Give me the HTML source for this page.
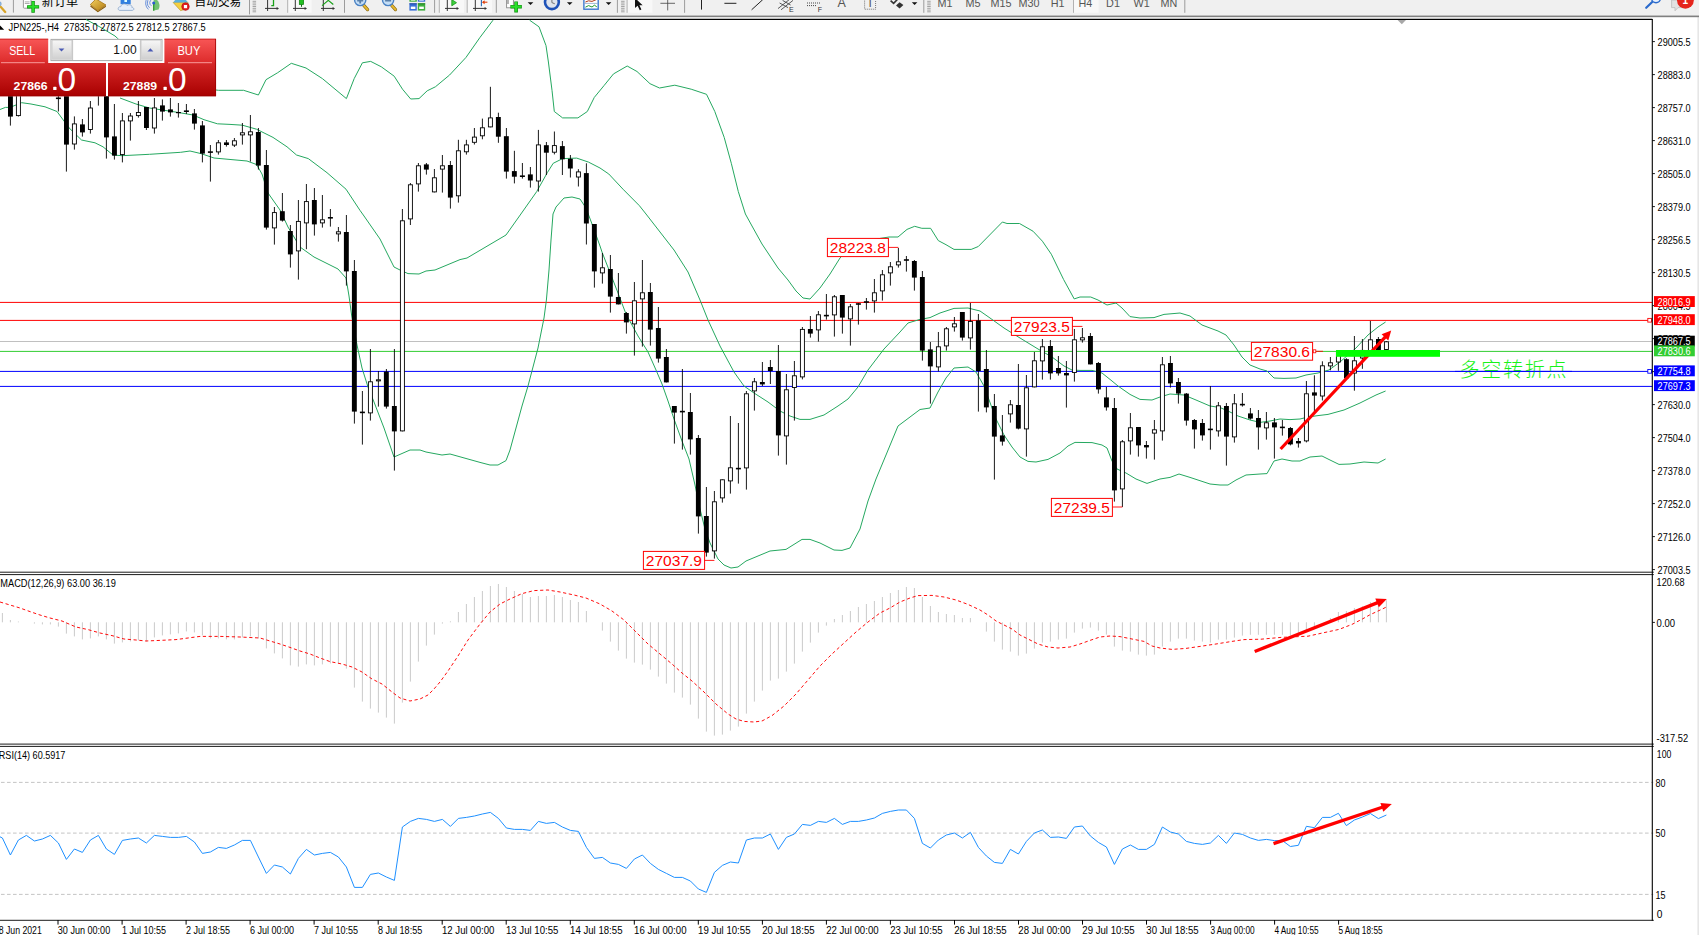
<!DOCTYPE html>
<html lang="zh"><head><meta charset="utf-8"><title>JPN225-,H4</title>
<style>html,body{margin:0;padding:0;background:#fff}body{width:1699px;height:935px;overflow:hidden;position:relative}svg{display:block}svg text{white-space:pre}</style></head>
<body>
<svg width="1699" height="935" viewBox="0 0 1699 935" font-family='"Liberation Sans","Noto Sans CJK SC",sans-serif' style="position:absolute;left:0;top:0">
<defs>
<linearGradient id="gs" x1="0" y1="0" x2="0" y2="1"><stop offset="0" stop-color="#f85656"/><stop offset="1" stop-color="#dc2a2a"/></linearGradient>
<linearGradient id="gp" x1="0" y1="0" x2="0" y2="1"><stop offset="0" stop-color="#d62828"/><stop offset="1" stop-color="#a80000"/></linearGradient>
<linearGradient id="gb" x1="0" y1="0" x2="0" y2="1"><stop offset="0" stop-color="#f6f6f6"/><stop offset="0.5" stop-color="#e4e4e4"/><stop offset="1" stop-color="#cfcfcf"/></linearGradient>
<linearGradient id="gold" x1="0" y1="0" x2="1" y2="1"><stop offset="0" stop-color="#f4d060"/><stop offset="1" stop-color="#b07a10"/></linearGradient>
</defs>
<rect width="1699" height="935" fill="#fff"/>
<rect x="1697.4" y="15" width="1.6" height="920" fill="#e6e6e6"/>
<line x1="0" y1="302.4" x2="1652.3" y2="302.4" stroke="#ff0000" stroke-width="1"/>
<line x1="0" y1="320.4" x2="1652.3" y2="320.4" stroke="#ff0000" stroke-width="1"/>
<line x1="0" y1="341.5" x2="1652.3" y2="341.5" stroke="#c0c0c0" stroke-width="1"/>
<line x1="0" y1="351.4" x2="1652.3" y2="351.4" stroke="#32cd32" stroke-width="1"/>
<line x1="0" y1="371.4" x2="1652.3" y2="371.4" stroke="#0000ff" stroke-width="1"/>
<line x1="0" y1="386.4" x2="1652.3" y2="386.4" stroke="#0000ff" stroke-width="1"/>
<line x1="1652.3" y1="41.6" x2="1654.9" y2="41.6" stroke="#000" stroke-width="0.9"/>
<text x="1657.6" y="45.6" font-size="10.20" fill="#000" textLength="33.0" lengthAdjust="spacingAndGlyphs" >29005.5</text>
<line x1="1652.3" y1="74.6" x2="1654.9" y2="74.6" stroke="#000" stroke-width="0.9"/>
<text x="1657.6" y="78.6" font-size="10.20" fill="#000" textLength="33.0" lengthAdjust="spacingAndGlyphs" >28883.0</text>
<line x1="1652.3" y1="107.6" x2="1654.9" y2="107.6" stroke="#000" stroke-width="0.9"/>
<text x="1657.6" y="111.6" font-size="10.20" fill="#000" textLength="33.0" lengthAdjust="spacingAndGlyphs" >28757.0</text>
<line x1="1652.3" y1="140.6" x2="1654.9" y2="140.6" stroke="#000" stroke-width="0.9"/>
<text x="1657.6" y="144.6" font-size="10.20" fill="#000" textLength="33.0" lengthAdjust="spacingAndGlyphs" >28631.0</text>
<line x1="1652.3" y1="173.6" x2="1654.9" y2="173.6" stroke="#000" stroke-width="0.9"/>
<text x="1657.6" y="177.6" font-size="10.20" fill="#000" textLength="33.0" lengthAdjust="spacingAndGlyphs" >28505.0</text>
<line x1="1652.3" y1="206.6" x2="1654.9" y2="206.6" stroke="#000" stroke-width="0.9"/>
<text x="1657.6" y="210.6" font-size="10.20" fill="#000" textLength="33.0" lengthAdjust="spacingAndGlyphs" >28379.0</text>
<line x1="1652.3" y1="239.6" x2="1654.9" y2="239.6" stroke="#000" stroke-width="0.9"/>
<text x="1657.6" y="243.6" font-size="10.20" fill="#000" textLength="33.0" lengthAdjust="spacingAndGlyphs" >28256.5</text>
<line x1="1652.3" y1="272.6" x2="1654.9" y2="272.6" stroke="#000" stroke-width="0.9"/>
<text x="1657.6" y="276.6" font-size="10.20" fill="#000" textLength="33.0" lengthAdjust="spacingAndGlyphs" >28130.5</text>
<line x1="1652.3" y1="305.6" x2="1654.9" y2="305.6" stroke="#000" stroke-width="0.9"/>
<text x="1657.6" y="309.6" font-size="10.20" fill="#000" textLength="33.0" lengthAdjust="spacingAndGlyphs" >28004.5</text>
<line x1="1652.3" y1="338.6" x2="1654.9" y2="338.6" stroke="#000" stroke-width="0.9"/>
<text x="1657.6" y="342.6" font-size="10.20" fill="#000" textLength="33.0" lengthAdjust="spacingAndGlyphs" >27878.5</text>
<line x1="1652.3" y1="371.6" x2="1654.9" y2="371.6" stroke="#000" stroke-width="0.9"/>
<text x="1657.6" y="375.6" font-size="10.20" fill="#000" textLength="33.0" lengthAdjust="spacingAndGlyphs" >27752.5</text>
<line x1="1652.3" y1="404.6" x2="1654.9" y2="404.6" stroke="#000" stroke-width="0.9"/>
<text x="1657.6" y="408.6" font-size="10.20" fill="#000" textLength="33.0" lengthAdjust="spacingAndGlyphs" >27630.0</text>
<line x1="1652.3" y1="437.6" x2="1654.9" y2="437.6" stroke="#000" stroke-width="0.9"/>
<text x="1657.6" y="441.6" font-size="10.20" fill="#000" textLength="33.0" lengthAdjust="spacingAndGlyphs" >27504.0</text>
<line x1="1652.3" y1="470.6" x2="1654.9" y2="470.6" stroke="#000" stroke-width="0.9"/>
<text x="1657.6" y="474.6" font-size="10.20" fill="#000" textLength="33.0" lengthAdjust="spacingAndGlyphs" >27378.0</text>
<line x1="1652.3" y1="503.6" x2="1654.9" y2="503.6" stroke="#000" stroke-width="0.9"/>
<text x="1657.6" y="507.6" font-size="10.20" fill="#000" textLength="33.0" lengthAdjust="spacingAndGlyphs" >27252.0</text>
<line x1="1652.3" y1="536.6" x2="1654.9" y2="536.6" stroke="#000" stroke-width="0.9"/>
<text x="1657.6" y="540.6" font-size="10.20" fill="#000" textLength="33.0" lengthAdjust="spacingAndGlyphs" >27126.0</text>
<line x1="1652.3" y1="569.6" x2="1654.9" y2="569.6" stroke="#000" stroke-width="0.9"/>
<text x="1657.6" y="573.6" font-size="10.20" fill="#000" textLength="33.0" lengthAdjust="spacingAndGlyphs" >27003.5</text>
<rect x="1654" y="296.1" width="40.8" height="10.9" fill="#ff0000"/>
<text x="1657.6" y="305.5" font-size="10.20" fill="#fff" textLength="33.0" lengthAdjust="spacingAndGlyphs" >28016.9</text>
<rect x="1654" y="314.2" width="40.8" height="10.9" fill="#ff0000"/>
<text x="1657.6" y="323.7" font-size="10.20" fill="#fff" textLength="33.0" lengthAdjust="spacingAndGlyphs" >27948.0</text>
<rect x="1654" y="335.7" width="40.8" height="10.9" fill="#000000"/>
<text x="1657.6" y="345.1" font-size="10.20" fill="#fff" textLength="33.0" lengthAdjust="spacingAndGlyphs" >27867.5</text>
<rect x="1654" y="345.4" width="40.8" height="10.9" fill="#32cd32"/>
<text x="1657.6" y="354.9" font-size="10.20" fill="#fff" textLength="33.0" lengthAdjust="spacingAndGlyphs" >27830.6</text>
<rect x="1654" y="365.4" width="40.8" height="10.9" fill="#0000ff"/>
<text x="1657.6" y="374.8" font-size="10.20" fill="#fff" textLength="33.0" lengthAdjust="spacingAndGlyphs" >27754.8</text>
<rect x="1654" y="380.2" width="40.8" height="10.9" fill="#0000ff"/>
<text x="1657.6" y="389.6" font-size="10.20" fill="#fff" textLength="33.0" lengthAdjust="spacingAndGlyphs" >27697.3</text>
<rect x="1647.8" y="318.4" width="3.7" height="3.7" fill="#fff" stroke="#ff0000" stroke-width="0.9"/>
<rect x="1647.8" y="369.5" width="3.7" height="3.7" fill="#fff" stroke="#0000ff" stroke-width="0.9"/>
<text x="1656.6" y="585.8" font-size="10.20" fill="#000" textLength="28.0" lengthAdjust="spacingAndGlyphs" >120.68</text>
<text x="1656.6" y="626.8" font-size="10.20" fill="#000" textLength="18.5" lengthAdjust="spacingAndGlyphs" >0.00</text>
<text x="1656.6" y="741.8" font-size="10.20" fill="#000" textLength="31.5" lengthAdjust="spacingAndGlyphs" >-317.52</text>
<line x1="1652.3" y1="622.4" x2="1654.9" y2="622.4" stroke="#000" stroke-width="0.9"/>
<text x="1656.8" y="757.8" font-size="10.20" fill="#000" textLength="14.5" lengthAdjust="spacingAndGlyphs" >100</text>
<text x="1655.4" y="786.5" font-size="10.20" fill="#000" textLength="10.0" lengthAdjust="spacingAndGlyphs" >80</text>
<text x="1655.4" y="837.4" font-size="10.20" fill="#000" textLength="10.0" lengthAdjust="spacingAndGlyphs" >50</text>
<text x="1655.4" y="898.5" font-size="10.20" fill="#000" textLength="10.0" lengthAdjust="spacingAndGlyphs" >15</text>
<text x="1656.8" y="917.8" font-size="10.20" fill="#000" >0</text>
<line x1="1" y1="782.4" x2="1653.3" y2="782.4" stroke="#bdbdbd" stroke-width="0.9" stroke-dasharray="3.6 2.4"/>
<line x1="1" y1="833.1" x2="1653.3" y2="833.1" stroke="#bdbdbd" stroke-width="0.9" stroke-dasharray="3.6 2.4"/>
<line x1="1" y1="894.4" x2="1653.3" y2="894.4" stroke="#bdbdbd" stroke-width="0.9" stroke-dasharray="3.6 2.4"/>
<line x1="0" y1="19.3" x2="1652.3" y2="19.3" stroke="#000" stroke-width="1.3"/>
<line x1="0" y1="572.2" x2="1653.8" y2="572.2" stroke="#000" stroke-width="0.9"/>
<line x1="0" y1="574.6" x2="1653.8" y2="574.6" stroke="#000" stroke-width="0.9"/>
<line x1="0" y1="744.1" x2="1653.8" y2="744.1" stroke="#000" stroke-width="0.9"/>
<line x1="0" y1="746.4" x2="1653.8" y2="746.4" stroke="#000" stroke-width="0.9"/>
<line x1="0" y1="920.3" x2="1653.8" y2="920.3" stroke="#000" stroke-width="0.9"/>
<line x1="1652.3" y1="19" x2="1652.3" y2="920.8" stroke="#000" stroke-width="1.1"/>
<polygon points="1397.6,20 1406,20 1401.8,24.3" fill="#a8a8a8"/>
<line x1="-6.0" y1="920" x2="-6.0" y2="924.6" stroke="#000" stroke-width="1"/>
<text x="-6.2" y="933.7" font-size="10.20" fill="#000" textLength="48.0" lengthAdjust="spacingAndGlyphs" >28 Jun 2021</text>
<line x1="58.0" y1="920" x2="58.0" y2="924.6" stroke="#000" stroke-width="1"/>
<text x="57.8" y="933.7" font-size="10.20" fill="#000" textLength="52.4" lengthAdjust="spacingAndGlyphs" >30 Jun 00:00</text>
<line x1="122.1" y1="920" x2="122.1" y2="924.6" stroke="#000" stroke-width="1"/>
<text x="121.9" y="933.7" font-size="10.20" fill="#000" textLength="44.2" lengthAdjust="spacingAndGlyphs" >1 Jul 10:55</text>
<line x1="186.1" y1="920" x2="186.1" y2="924.6" stroke="#000" stroke-width="1"/>
<text x="185.9" y="933.7" font-size="10.20" fill="#000" textLength="44.2" lengthAdjust="spacingAndGlyphs" >2 Jul 18:55</text>
<line x1="250.1" y1="920" x2="250.1" y2="924.6" stroke="#000" stroke-width="1"/>
<text x="249.9" y="933.7" font-size="10.20" fill="#000" textLength="44.2" lengthAdjust="spacingAndGlyphs" >6 Jul 00:00</text>
<line x1="314.1" y1="920" x2="314.1" y2="924.6" stroke="#000" stroke-width="1"/>
<text x="313.9" y="933.7" font-size="10.20" fill="#000" textLength="44.2" lengthAdjust="spacingAndGlyphs" >7 Jul 10:55</text>
<line x1="378.2" y1="920" x2="378.2" y2="924.6" stroke="#000" stroke-width="1"/>
<text x="378.0" y="933.7" font-size="10.20" fill="#000" textLength="44.2" lengthAdjust="spacingAndGlyphs" >8 Jul 18:55</text>
<line x1="442.2" y1="920" x2="442.2" y2="924.6" stroke="#000" stroke-width="1"/>
<text x="442.0" y="933.7" font-size="10.20" fill="#000" textLength="52.4" lengthAdjust="spacingAndGlyphs" >12 Jul 00:00</text>
<line x1="506.2" y1="920" x2="506.2" y2="924.6" stroke="#000" stroke-width="1"/>
<text x="506.0" y="933.7" font-size="10.20" fill="#000" textLength="52.4" lengthAdjust="spacingAndGlyphs" >13 Jul 10:55</text>
<line x1="570.3" y1="920" x2="570.3" y2="924.6" stroke="#000" stroke-width="1"/>
<text x="570.1" y="933.7" font-size="10.20" fill="#000" textLength="52.4" lengthAdjust="spacingAndGlyphs" >14 Jul 18:55</text>
<line x1="634.3" y1="920" x2="634.3" y2="924.6" stroke="#000" stroke-width="1"/>
<text x="634.1" y="933.7" font-size="10.20" fill="#000" textLength="52.4" lengthAdjust="spacingAndGlyphs" >16 Jul 00:00</text>
<line x1="698.3" y1="920" x2="698.3" y2="924.6" stroke="#000" stroke-width="1"/>
<text x="698.1" y="933.7" font-size="10.20" fill="#000" textLength="52.4" lengthAdjust="spacingAndGlyphs" >19 Jul 10:55</text>
<line x1="762.4" y1="920" x2="762.4" y2="924.6" stroke="#000" stroke-width="1"/>
<text x="762.2" y="933.7" font-size="10.20" fill="#000" textLength="52.4" lengthAdjust="spacingAndGlyphs" >20 Jul 18:55</text>
<line x1="826.4" y1="920" x2="826.4" y2="924.6" stroke="#000" stroke-width="1"/>
<text x="826.2" y="933.7" font-size="10.20" fill="#000" textLength="52.4" lengthAdjust="spacingAndGlyphs" >22 Jul 00:00</text>
<line x1="890.4" y1="920" x2="890.4" y2="924.6" stroke="#000" stroke-width="1"/>
<text x="890.2" y="933.7" font-size="10.20" fill="#000" textLength="52.4" lengthAdjust="spacingAndGlyphs" >23 Jul 10:55</text>
<line x1="954.5" y1="920" x2="954.5" y2="924.6" stroke="#000" stroke-width="1"/>
<text x="954.2" y="933.7" font-size="10.20" fill="#000" textLength="52.4" lengthAdjust="spacingAndGlyphs" >26 Jul 18:55</text>
<line x1="1018.5" y1="920" x2="1018.5" y2="924.6" stroke="#000" stroke-width="1"/>
<text x="1018.3" y="933.7" font-size="10.20" fill="#000" textLength="52.4" lengthAdjust="spacingAndGlyphs" >28 Jul 00:00</text>
<line x1="1082.5" y1="920" x2="1082.5" y2="924.6" stroke="#000" stroke-width="1"/>
<text x="1082.3" y="933.7" font-size="10.20" fill="#000" textLength="52.4" lengthAdjust="spacingAndGlyphs" >29 Jul 10:55</text>
<line x1="1146.5" y1="920" x2="1146.5" y2="924.6" stroke="#000" stroke-width="1"/>
<text x="1146.3" y="933.7" font-size="10.20" fill="#000" textLength="52.4" lengthAdjust="spacingAndGlyphs" >30 Jul 18:55</text>
<line x1="1210.6" y1="920" x2="1210.6" y2="924.6" stroke="#000" stroke-width="1"/>
<text x="1210.4" y="933.7" font-size="10.20" fill="#000" textLength="44.2" lengthAdjust="spacingAndGlyphs" >3 Aug 00:00</text>
<line x1="1274.6" y1="920" x2="1274.6" y2="924.6" stroke="#000" stroke-width="1"/>
<text x="1274.4" y="933.7" font-size="10.20" fill="#000" textLength="44.2" lengthAdjust="spacingAndGlyphs" >4 Aug 10:55</text>
<line x1="1338.6" y1="920" x2="1338.6" y2="924.6" stroke="#000" stroke-width="1"/>
<text x="1338.4" y="933.7" font-size="10.20" fill="#000" textLength="44.2" lengthAdjust="spacingAndGlyphs" >5 Aug 18:55</text>
<polyline points="86.0,19.5 100.0,27.0 115.0,36.0 130.0,50.0 160.0,75.0 200.0,88.0 218.4,90.3 243.6,90.3 258.4,95.0 266.0,79.7 277.7,72.7 291.3,63.3 306.0,68.0 322.4,78.6 346.4,98.6 354.2,78.6 362.4,62.8 370.7,61.4 381.3,66.8 394.2,76.2 402.5,89.2 410.7,99.0 419.0,98.6 427.2,90.8 435.4,86.8 449.6,75.0 466.0,57.4 480.0,37.4 493.0,20.2" fill="none" stroke="#25a860" stroke-width="1" stroke-linejoin="round"/>
<polyline points="529.6,20.2 539.0,26.8 546.0,45.6 548.4,62.0 552.0,90.3 554.3,111.5 562.6,117.9 577.9,117.9 587.3,111.5 594.3,97.4 604.0,85.6 613.5,73.9 627.2,66.0 637.0,71.5 650.0,83.7 659.5,88.0 674.8,85.2 691.2,89.2 706.5,94.3 714.8,111.5 724.2,137.4 731.3,163.3 738.3,191.6 745.4,214.0 752.0,226.0 762.0,244.0 778.0,268.0 788.0,280.0 796.0,291.0 803.0,298.0 810.0,299.0 820.0,288.0 830.0,274.0 840.0,258.0 852.0,245.0 870.0,240.0 889.0,237.0 898.0,237.0 907.0,229.4 914.7,226.3 921.8,228.3 930.6,228.3 938.3,240.6 946.0,244.7 954.0,249.4 971.2,249.4 978.3,246.5 990.6,234.0 1002.4,222.0 1007.0,223.5 1019.5,223.5 1033.0,231.2 1042.4,241.2 1051.3,254.2 1063.6,279.5 1074.2,298.9 1080.0,297.0 1090.7,297.0 1098.0,300.0 1107.0,305.0 1116.0,303.0 1122.0,308.0 1130.0,316.6 1140.0,318.0 1154.0,317.6 1164.0,314.4 1180.0,313.0 1190.0,316.0 1202.0,325.0 1218.0,331.0 1226.0,335.0 1234.0,345.0 1242.0,357.0 1250.0,365.0 1260.0,369.0 1267.0,371.0 1274.0,378.0 1284.0,378.4 1296.0,378.0 1306.0,375.0 1318.0,373.0 1329.0,370.0 1340.0,362.0 1356.0,348.0 1368.0,335.0 1378.0,327.0 1385.6,322.0" fill="none" stroke="#25a860" stroke-width="1" stroke-linejoin="round"/>
<polyline points="120.0,98.0 136.0,104.0 149.5,108.0 176.6,112.2 193.0,115.0 204.0,119.7 217.4,123.8 230.0,124.4 242.4,125.2 256.5,129.2 273.0,137.4 287.0,146.8 296.5,155.0 308.3,158.6 327.0,172.7 346.0,189.2 360.0,210.4 364.0,216.0 380.0,239.0 394.0,267.0 400.0,270.0 408.0,273.6 419.0,274.0 426.0,271.0 435.0,270.0 460.0,259.6 467.0,258.0 506.0,235.0 520.2,215.0 536.7,191.6 547.3,172.7 553.2,163.3 562.6,158.6 576.7,158.1 588.5,162.1 600.0,168.0 608.8,174.0 623.0,189.2 639.4,205.7 646.0,214.0 660.0,232.0 674.0,250.0 688.0,272.0 700.0,300.0 708.0,320.0 720.0,346.0 734.0,372.0 744.0,386.0 754.0,393.0 768.0,402.0 780.0,411.0 790.0,416.0 800.0,419.4 810.0,419.4 824.0,415.0 838.0,406.0 848.0,399.0 858.0,387.0 868.0,370.0 884.0,349.0 900.0,332.0 908.0,323.0 920.0,319.4 930.0,317.6 940.0,313.0 954.0,308.4 968.0,308.0 980.0,311.0 990.0,318.0 1004.0,328.0 1020.0,338.0 1038.0,349.0 1052.0,357.0 1064.0,366.0 1072.0,370.0 1080.0,370.4 1092.0,370.4 1102.0,373.0 1112.0,381.0 1118.0,386.0 1130.0,394.4 1140.0,399.4 1152.0,400.0 1160.0,397.0 1170.0,394.0 1184.0,395.0 1196.0,400.0 1210.0,406.0 1220.0,407.5 1228.0,411.0 1238.0,416.0 1250.0,420.0 1260.0,422.4 1270.0,421.0 1280.0,419.0 1290.0,419.6 1300.0,419.0 1308.0,417.0 1318.0,415.6 1328.0,414.4 1344.0,410.0 1360.0,403.0 1376.0,395.0 1385.6,391.0" fill="none" stroke="#25a860" stroke-width="1" stroke-linejoin="round"/>
<polyline points="0.0,109.5 5.4,107.4 10.0,107.4 21.7,102.7 31.0,104.0 45.0,106.8 57.0,111.5 64.0,121.0 69.0,127.8 81.5,140.0 95.0,142.8 103.0,146.8 113.0,155.0 122.0,155.7 149.5,154.3 180.7,152.3 190.0,151.0 201.0,153.6 214.0,158.0 247.0,161.0 256.5,164.5 262.0,174.0 268.0,193.0 280.0,210.0 288.0,227.0 300.0,247.0 314.0,257.0 338.0,269.0 346.0,278.0 349.0,296.0 351.6,315.0 357.0,345.0 362.0,368.0 368.0,387.0 374.0,402.0 384.0,428.0 394.0,457.0 410.0,450.0 420.0,450.0 426.0,452.0 442.0,455.0 450.0,454.0 480.0,462.4 490.0,465.0 498.0,465.0 506.0,460.6 510.0,450.0 522.0,406.0 528.0,386.0 538.0,348.0 544.0,318.0 546.4,300.0 549.0,270.0 551.0,240.0 553.0,214.0 556.0,207.0 564.0,198.0 572.0,197.0 580.0,199.0 586.0,208.0 592.0,224.0 600.0,246.0 602.0,252.0 618.0,293.0 626.0,314.0 638.0,336.0 648.0,352.0 656.0,370.0 662.0,384.0 668.0,401.0 674.0,419.0 682.0,441.0 689.0,459.0 695.0,485.0 700.0,509.0 705.0,529.0 710.0,543.0 718.0,559.0 724.0,565.0 731.0,568.0 738.0,567.0 746.0,561.0 770.0,551.0 786.0,549.4 802.0,539.4 810.0,539.4 820.0,543.0 834.0,550.0 842.0,550.4 850.0,548.0 860.0,529.0 868.0,501.0 876.0,479.0 886.0,455.0 898.0,426.0 910.0,417.0 920.0,409.5 930.0,408.0 938.0,392.0 946.0,378.0 954.0,368.0 968.0,367.0 976.0,372.0 984.0,386.0 988.0,397.0 996.0,419.0 1004.0,435.0 1012.0,447.0 1020.0,457.0 1028.0,461.4 1036.0,462.0 1048.0,459.4 1060.0,453.0 1068.0,446.0 1075.0,442.4 1092.0,442.6 1102.0,445.0 1107.0,448.0 1112.0,461.0 1117.0,469.0 1126.0,473.0 1136.0,479.0 1147.0,483.4 1160.0,479.0 1170.0,477.4 1179.0,474.0 1190.0,477.4 1210.0,484.0 1220.0,485.0 1228.0,485.0 1236.0,480.0 1246.0,475.0 1260.0,474.0 1267.0,473.6 1274.0,461.0 1282.0,459.0 1292.0,461.0 1300.0,461.0 1310.0,457.0 1322.0,456.0 1330.0,460.0 1339.0,464.4 1350.0,464.0 1364.0,462.0 1378.0,463.0 1385.6,459.0" fill="none" stroke="#25a860" stroke-width="1" stroke-linejoin="round"/>
<line x1="10.4" y1="85.0" x2="10.4" y2="125.6" stroke="#000" stroke-width="0.9"/>
<rect x="8.0" y="88.0" width="4.9" height="28.6" fill="#000"/>
<line x1="18.4" y1="90.0" x2="18.4" y2="116.5" stroke="#000" stroke-width="0.9"/>
<rect x="16.4" y="95.5" width="4.0" height="20.1" fill="#fff" stroke="#000" stroke-width="0.9"/>
<line x1="58.4" y1="90.0" x2="58.4" y2="111.5" stroke="#000" stroke-width="0.9"/>
<line x1="55.9" y1="98.3" x2="60.9" y2="98.3" stroke="#000" stroke-width="1.6"/>
<line x1="66.4" y1="88.0" x2="66.4" y2="171.6" stroke="#000" stroke-width="0.9"/>
<rect x="64.0" y="90.0" width="4.9" height="54.6" fill="#000"/>
<line x1="74.4" y1="116.4" x2="74.4" y2="149.6" stroke="#000" stroke-width="0.9"/>
<rect x="72.4" y="123.9" width="4.0" height="20.1" fill="#fff" stroke="#000" stroke-width="0.9"/>
<line x1="82.4" y1="119.0" x2="82.4" y2="136.6" stroke="#000" stroke-width="0.9"/>
<rect x="80.0" y="124.4" width="4.9" height="8.0" fill="#000"/>
<line x1="90.4" y1="101.0" x2="90.4" y2="133.6" stroke="#000" stroke-width="0.9"/>
<rect x="88.4" y="108.0" width="4.0" height="21.5" fill="#fff" stroke="#000" stroke-width="0.9"/>
<line x1="98.4" y1="85.0" x2="98.4" y2="105.6" stroke="#000" stroke-width="0.9"/>
<rect x="96.4" y="88.5" width="4.0" height="6.1" fill="#fff" stroke="#000" stroke-width="0.9"/>
<line x1="106.4" y1="88.0" x2="106.4" y2="158.6" stroke="#000" stroke-width="0.9"/>
<rect x="104.0" y="90.0" width="4.9" height="47.4" fill="#000"/>
<line x1="114.4" y1="104.0" x2="114.4" y2="159.6" stroke="#000" stroke-width="0.9"/>
<rect x="112.0" y="136.4" width="4.9" height="19.2" fill="#000"/>
<line x1="122.4" y1="113.0" x2="122.4" y2="162.4" stroke="#000" stroke-width="0.9"/>
<rect x="120.4" y="120.9" width="4.0" height="33.7" fill="#fff" stroke="#000" stroke-width="0.9"/>
<line x1="130.4" y1="113.0" x2="130.4" y2="140.6" stroke="#000" stroke-width="0.9"/>
<rect x="128.4" y="116.0" width="4.0" height="4.9" fill="#fff" stroke="#000" stroke-width="0.9"/>
<line x1="138.4" y1="101.0" x2="138.4" y2="117.6" stroke="#000" stroke-width="0.9"/>
<rect x="136.4" y="112.5" width="4.0" height="3.1" fill="#fff" stroke="#000" stroke-width="0.9"/>
<line x1="146.4" y1="107.0" x2="146.4" y2="130.0" stroke="#000" stroke-width="0.9"/>
<rect x="144.0" y="107.0" width="4.9" height="21.0" fill="#000"/>
<line x1="154.4" y1="98.0" x2="154.4" y2="133.6" stroke="#000" stroke-width="0.9"/>
<rect x="152.4" y="107.9" width="4.0" height="20.1" fill="#fff" stroke="#000" stroke-width="0.9"/>
<line x1="162.4" y1="99.4" x2="162.4" y2="120.6" stroke="#000" stroke-width="0.9"/>
<rect x="160.0" y="105.4" width="4.9" height="6.2" fill="#000"/>
<line x1="170.4" y1="98.0" x2="170.4" y2="116.6" stroke="#000" stroke-width="0.9"/>
<rect x="168.0" y="109.4" width="4.9" height="3.0" fill="#000"/>
<line x1="178.4" y1="103.0" x2="178.4" y2="117.6" stroke="#000" stroke-width="0.9"/>
<rect x="176.0" y="112.0" width="4.9" height="1.2" fill="#000"/>
<line x1="186.4" y1="104.0" x2="186.4" y2="114.0" stroke="#000" stroke-width="0.9"/>
<line x1="183.9" y1="111.2" x2="188.9" y2="111.2" stroke="#000" stroke-width="1.6"/>
<line x1="194.4" y1="109.0" x2="194.4" y2="129.6" stroke="#000" stroke-width="0.9"/>
<rect x="192.0" y="113.4" width="4.9" height="10.2" fill="#000"/>
<line x1="202.4" y1="121.0" x2="202.4" y2="162.4" stroke="#000" stroke-width="0.9"/>
<rect x="200.0" y="125.4" width="4.9" height="28.2" fill="#000"/>
<line x1="210.4" y1="145.0" x2="210.4" y2="181.6" stroke="#000" stroke-width="0.9"/>
<line x1="207.9" y1="152.1" x2="212.9" y2="152.1" stroke="#000" stroke-width="1.6"/>
<line x1="218.4" y1="140.0" x2="218.4" y2="154.6" stroke="#000" stroke-width="0.9"/>
<rect x="216.4" y="142.8" width="4.0" height="9.1" fill="#fff" stroke="#000" stroke-width="0.9"/>
<line x1="226.4" y1="140.0" x2="226.4" y2="146.6" stroke="#000" stroke-width="0.9"/>
<rect x="224.0" y="142.4" width="4.9" height="2.6" fill="#000"/>
<line x1="234.4" y1="138.0" x2="234.4" y2="147.0" stroke="#000" stroke-width="0.9"/>
<rect x="232.4" y="140.8" width="4.0" height="4.3" fill="#fff" stroke="#000" stroke-width="0.9"/>
<line x1="242.4" y1="123.0" x2="242.4" y2="144.6" stroke="#000" stroke-width="0.9"/>
<rect x="240.4" y="132.8" width="4.0" height="2.1" fill="#fff" stroke="#000" stroke-width="0.9"/>
<line x1="250.4" y1="115.0" x2="250.4" y2="161.6" stroke="#000" stroke-width="0.9"/>
<rect x="248.4" y="131.8" width="4.0" height="3.1" fill="#fff" stroke="#000" stroke-width="0.9"/>
<line x1="258.4" y1="128.0" x2="258.4" y2="169.6" stroke="#000" stroke-width="0.9"/>
<rect x="255.9" y="132.0" width="4.9" height="33.6" fill="#000"/>
<line x1="266.4" y1="150.0" x2="266.4" y2="229.6" stroke="#000" stroke-width="0.9"/>
<rect x="263.9" y="165.0" width="4.9" height="62.6" fill="#000"/>
<line x1="274.4" y1="207.0" x2="274.4" y2="244.6" stroke="#000" stroke-width="0.9"/>
<rect x="272.4" y="212.6" width="4.0" height="15.3" fill="#fff" stroke="#000" stroke-width="0.9"/>
<line x1="282.4" y1="193.0" x2="282.4" y2="221.6" stroke="#000" stroke-width="0.9"/>
<rect x="279.9" y="211.2" width="4.9" height="9.4" fill="#000"/>
<line x1="290.4" y1="225.0" x2="290.4" y2="267.6" stroke="#000" stroke-width="0.9"/>
<rect x="287.9" y="231.0" width="4.9" height="23.4" fill="#000"/>
<line x1="298.4" y1="200.0" x2="298.4" y2="279.6" stroke="#000" stroke-width="0.9"/>
<rect x="296.4" y="221.4" width="4.0" height="29.5" fill="#fff" stroke="#000" stroke-width="0.9"/>
<line x1="306.4" y1="184.0" x2="306.4" y2="249.2" stroke="#000" stroke-width="0.9"/>
<rect x="304.4" y="201.6" width="4.0" height="21.3" fill="#fff" stroke="#000" stroke-width="0.9"/>
<line x1="314.4" y1="188.0" x2="314.4" y2="235.6" stroke="#000" stroke-width="0.9"/>
<rect x="311.9" y="200.0" width="4.9" height="24.4" fill="#000"/>
<line x1="322.4" y1="195.0" x2="322.4" y2="227.6" stroke="#000" stroke-width="0.9"/>
<rect x="320.4" y="219.8" width="4.0" height="3.1" fill="#fff" stroke="#000" stroke-width="0.9"/>
<line x1="330.4" y1="209.0" x2="330.4" y2="226.6" stroke="#000" stroke-width="0.9"/>
<line x1="327.9" y1="217.8" x2="332.9" y2="217.8" stroke="#000" stroke-width="1.6"/>
<line x1="338.4" y1="227.0" x2="338.4" y2="241.6" stroke="#000" stroke-width="0.9"/>
<rect x="336.4" y="231.8" width="4.0" height="2.1" fill="#fff" stroke="#000" stroke-width="0.9"/>
<line x1="346.4" y1="215.0" x2="346.4" y2="285.6" stroke="#000" stroke-width="0.9"/>
<rect x="343.9" y="232.0" width="4.9" height="39.4" fill="#000"/>
<line x1="354.4" y1="260.0" x2="354.4" y2="423.6" stroke="#000" stroke-width="0.9"/>
<rect x="351.9" y="271.0" width="4.9" height="140.6" fill="#000"/>
<line x1="362.4" y1="391.0" x2="362.4" y2="444.6" stroke="#000" stroke-width="0.9"/>
<line x1="359.9" y1="412.4" x2="364.9" y2="412.4" stroke="#000" stroke-width="1.6"/>
<line x1="370.4" y1="349.0" x2="370.4" y2="420.6" stroke="#000" stroke-width="0.9"/>
<rect x="368.4" y="381.8" width="4.0" height="31.1" fill="#fff" stroke="#000" stroke-width="0.9"/>
<line x1="378.4" y1="371.0" x2="378.4" y2="406.6" stroke="#000" stroke-width="0.9"/>
<rect x="376.4" y="379.8" width="4.0" height="1.1" fill="#fff" stroke="#000" stroke-width="0.9"/>
<line x1="386.4" y1="369.0" x2="386.4" y2="408.6" stroke="#000" stroke-width="0.9"/>
<rect x="383.9" y="371.6" width="4.9" height="35.0" fill="#000"/>
<line x1="394.4" y1="349.0" x2="394.4" y2="470.6" stroke="#000" stroke-width="0.9"/>
<rect x="391.9" y="406.0" width="4.9" height="25.4" fill="#000"/>
<line x1="402.4" y1="209.0" x2="402.4" y2="431.4" stroke="#000" stroke-width="0.9"/>
<rect x="400.4" y="220.8" width="4.0" height="210.1" fill="#fff" stroke="#000" stroke-width="0.9"/>
<line x1="410.4" y1="183.0" x2="410.4" y2="225.0" stroke="#000" stroke-width="0.9"/>
<rect x="408.4" y="184.8" width="4.0" height="34.1" fill="#fff" stroke="#000" stroke-width="0.9"/>
<line x1="418.4" y1="163.0" x2="418.4" y2="191.6" stroke="#000" stroke-width="0.9"/>
<rect x="416.4" y="165.8" width="4.0" height="18.1" fill="#fff" stroke="#000" stroke-width="0.9"/>
<line x1="426.4" y1="163.0" x2="426.4" y2="174.6" stroke="#000" stroke-width="0.9"/>
<rect x="423.9" y="164.4" width="4.9" height="5.2" fill="#000"/>
<line x1="434.4" y1="169.0" x2="434.4" y2="192.4" stroke="#000" stroke-width="0.9"/>
<rect x="432.4" y="177.8" width="4.0" height="14.1" fill="#fff" stroke="#000" stroke-width="0.9"/>
<line x1="442.4" y1="155.0" x2="442.4" y2="192.6" stroke="#000" stroke-width="0.9"/>
<rect x="440.4" y="165.8" width="4.0" height="3.3" fill="#fff" stroke="#000" stroke-width="0.9"/>
<line x1="450.4" y1="161.0" x2="450.4" y2="208.6" stroke="#000" stroke-width="0.9"/>
<rect x="447.9" y="165.0" width="4.9" height="32.6" fill="#000"/>
<line x1="458.4" y1="139.8" x2="458.4" y2="202.6" stroke="#000" stroke-width="0.9"/>
<rect x="456.4" y="150.8" width="4.0" height="45.0" fill="#fff" stroke="#000" stroke-width="0.9"/>
<line x1="466.4" y1="139.8" x2="466.4" y2="154.6" stroke="#000" stroke-width="0.9"/>
<rect x="464.4" y="144.9" width="4.0" height="6.9" fill="#fff" stroke="#000" stroke-width="0.9"/>
<line x1="474.4" y1="128.0" x2="474.4" y2="144.5" stroke="#000" stroke-width="0.9"/>
<rect x="472.4" y="137.1" width="4.0" height="5.2" fill="#fff" stroke="#000" stroke-width="0.9"/>
<line x1="482.4" y1="118.6" x2="482.4" y2="139.3" stroke="#000" stroke-width="0.9"/>
<rect x="480.4" y="127.8" width="4.0" height="8.0" fill="#fff" stroke="#000" stroke-width="0.9"/>
<line x1="490.4" y1="86.8" x2="490.4" y2="127.3" stroke="#000" stroke-width="0.9"/>
<rect x="488.4" y="117.9" width="4.0" height="9.0" fill="#fff" stroke="#000" stroke-width="0.9"/>
<line x1="498.4" y1="112.7" x2="498.4" y2="142.8" stroke="#000" stroke-width="0.9"/>
<rect x="495.9" y="117.0" width="4.9" height="19.7" fill="#000"/>
<line x1="506.4" y1="128.0" x2="506.4" y2="178.6" stroke="#000" stroke-width="0.9"/>
<rect x="503.9" y="136.2" width="4.9" height="35.4" fill="#000"/>
<line x1="514.4" y1="150.8" x2="514.4" y2="183.4" stroke="#000" stroke-width="0.9"/>
<rect x="511.9" y="171.1" width="4.9" height="5.6" fill="#000"/>
<line x1="522.4" y1="163.0" x2="522.4" y2="178.6" stroke="#000" stroke-width="0.9"/>
<line x1="519.9" y1="176.2" x2="524.9" y2="176.2" stroke="#000" stroke-width="1.6"/>
<line x1="530.4" y1="167.0" x2="530.4" y2="187.6" stroke="#000" stroke-width="0.9"/>
<rect x="527.9" y="174.4" width="4.9" height="6.1" fill="#000"/>
<line x1="538.4" y1="129.9" x2="538.4" y2="191.6" stroke="#000" stroke-width="0.9"/>
<rect x="536.4" y="144.9" width="4.0" height="36.1" fill="#fff" stroke="#000" stroke-width="0.9"/>
<line x1="546.4" y1="142.0" x2="546.4" y2="175.0" stroke="#000" stroke-width="0.9"/>
<rect x="543.9" y="145.2" width="4.9" height="7.5" fill="#000"/>
<line x1="554.4" y1="131.5" x2="554.4" y2="154.4" stroke="#000" stroke-width="0.9"/>
<rect x="552.4" y="145.6" width="4.0" height="6.6" fill="#fff" stroke="#000" stroke-width="0.9"/>
<line x1="562.4" y1="141.0" x2="562.4" y2="175.0" stroke="#000" stroke-width="0.9"/>
<rect x="559.9" y="146.1" width="4.9" height="13.2" fill="#000"/>
<line x1="570.4" y1="155.0" x2="570.4" y2="177.5" stroke="#000" stroke-width="0.9"/>
<rect x="567.9" y="158.8" width="4.9" height="9.7" fill="#000"/>
<line x1="578.4" y1="169.2" x2="578.4" y2="186.5" stroke="#000" stroke-width="0.9"/>
<rect x="576.4" y="171.9" width="4.0" height="5.1" fill="#fff" stroke="#000" stroke-width="0.9"/>
<line x1="586.4" y1="163.3" x2="586.4" y2="244.5" stroke="#000" stroke-width="0.9"/>
<rect x="583.9" y="173.1" width="4.9" height="50.4" fill="#000"/>
<line x1="594.4" y1="224.0" x2="594.4" y2="287.6" stroke="#000" stroke-width="0.9"/>
<rect x="591.9" y="224.0" width="4.9" height="47.4" fill="#000"/>
<line x1="602.4" y1="253.0" x2="602.4" y2="283.6" stroke="#000" stroke-width="0.9"/>
<rect x="600.4" y="267.8" width="4.0" height="5.1" fill="#fff" stroke="#000" stroke-width="0.9"/>
<line x1="610.4" y1="255.0" x2="610.4" y2="312.6" stroke="#000" stroke-width="0.9"/>
<rect x="607.9" y="269.0" width="4.9" height="27.6" fill="#000"/>
<line x1="618.4" y1="273.0" x2="618.4" y2="304.4" stroke="#000" stroke-width="0.9"/>
<rect x="615.9" y="297.0" width="4.9" height="7.4" fill="#000"/>
<line x1="626.4" y1="312.0" x2="626.4" y2="333.6" stroke="#000" stroke-width="0.9"/>
<rect x="623.9" y="313.0" width="4.9" height="9.4" fill="#000"/>
<line x1="634.4" y1="282.0" x2="634.4" y2="355.6" stroke="#000" stroke-width="0.9"/>
<rect x="632.4" y="300.8" width="4.0" height="23.1" fill="#fff" stroke="#000" stroke-width="0.9"/>
<line x1="642.4" y1="260.0" x2="642.4" y2="346.6" stroke="#000" stroke-width="0.9"/>
<rect x="640.4" y="292.8" width="4.0" height="6.1" fill="#fff" stroke="#000" stroke-width="0.9"/>
<line x1="650.4" y1="283.0" x2="650.4" y2="345.6" stroke="#000" stroke-width="0.9"/>
<rect x="647.9" y="292.0" width="4.9" height="37.6" fill="#000"/>
<line x1="658.4" y1="307.0" x2="658.4" y2="362.6" stroke="#000" stroke-width="0.9"/>
<rect x="655.9" y="328.0" width="4.9" height="30.6" fill="#000"/>
<line x1="666.4" y1="349.0" x2="666.4" y2="382.4" stroke="#000" stroke-width="0.9"/>
<rect x="663.9" y="357.0" width="4.9" height="25.4" fill="#000"/>
<line x1="674.4" y1="406.0" x2="674.4" y2="443.6" stroke="#000" stroke-width="0.9"/>
<rect x="671.9" y="406.0" width="4.9" height="6.6" fill="#000"/>
<line x1="682.4" y1="369.0" x2="682.4" y2="449.6" stroke="#000" stroke-width="0.9"/>
<line x1="679.9" y1="411.6" x2="684.9" y2="411.6" stroke="#000" stroke-width="1.6"/>
<line x1="690.4" y1="393.0" x2="690.4" y2="454.6" stroke="#000" stroke-width="0.9"/>
<rect x="687.9" y="412.0" width="4.9" height="27.4" fill="#000"/>
<line x1="698.4" y1="435.0" x2="698.4" y2="533.6" stroke="#000" stroke-width="0.9"/>
<rect x="695.9" y="438.0" width="4.9" height="78.4" fill="#000"/>
<line x1="706.4" y1="487.0" x2="706.4" y2="556.6" stroke="#000" stroke-width="0.9"/>
<rect x="703.9" y="516.0" width="4.9" height="36.6" fill="#000"/>
<line x1="714.4" y1="491.0" x2="714.4" y2="558.6" stroke="#000" stroke-width="0.9"/>
<rect x="712.4" y="501.8" width="4.0" height="49.1" fill="#fff" stroke="#000" stroke-width="0.9"/>
<line x1="722.4" y1="479.4" x2="722.4" y2="502.6" stroke="#000" stroke-width="0.9"/>
<rect x="720.4" y="479.8" width="4.0" height="18.1" fill="#fff" stroke="#000" stroke-width="0.9"/>
<line x1="730.4" y1="416.0" x2="730.4" y2="493.6" stroke="#000" stroke-width="0.9"/>
<rect x="728.4" y="467.8" width="4.0" height="13.1" fill="#fff" stroke="#000" stroke-width="0.9"/>
<line x1="738.4" y1="423.0" x2="738.4" y2="483.6" stroke="#000" stroke-width="0.9"/>
<line x1="735.9" y1="468.6" x2="740.9" y2="468.6" stroke="#000" stroke-width="1.6"/>
<line x1="746.4" y1="391.0" x2="746.4" y2="489.6" stroke="#000" stroke-width="0.9"/>
<rect x="744.4" y="393.8" width="4.0" height="74.1" fill="#fff" stroke="#000" stroke-width="0.9"/>
<line x1="754.4" y1="378.0" x2="754.4" y2="410.6" stroke="#000" stroke-width="0.9"/>
<rect x="752.4" y="381.8" width="4.0" height="9.1" fill="#fff" stroke="#000" stroke-width="0.9"/>
<line x1="762.4" y1="362.0" x2="762.4" y2="386.0" stroke="#000" stroke-width="0.9"/>
<rect x="759.9" y="382.0" width="4.9" height="2.4" fill="#000"/>
<line x1="770.4" y1="360.0" x2="770.4" y2="384.0" stroke="#000" stroke-width="0.9"/>
<rect x="767.9" y="367.0" width="4.9" height="4.0" fill="#000"/>
<line x1="778.4" y1="345.0" x2="778.4" y2="455.6" stroke="#000" stroke-width="0.9"/>
<rect x="775.9" y="371.0" width="4.9" height="64.4" fill="#000"/>
<line x1="786.4" y1="374.0" x2="786.4" y2="464.6" stroke="#000" stroke-width="0.9"/>
<rect x="784.4" y="389.8" width="4.0" height="46.1" fill="#fff" stroke="#000" stroke-width="0.9"/>
<line x1="794.4" y1="361.0" x2="794.4" y2="420.6" stroke="#000" stroke-width="0.9"/>
<rect x="792.4" y="375.8" width="4.0" height="11.7" fill="#fff" stroke="#000" stroke-width="0.9"/>
<line x1="802.4" y1="327.0" x2="802.4" y2="379.4" stroke="#000" stroke-width="0.9"/>
<rect x="800.4" y="329.4" width="4.0" height="47.5" fill="#fff" stroke="#000" stroke-width="0.9"/>
<line x1="810.4" y1="316.0" x2="810.4" y2="337.6" stroke="#000" stroke-width="0.9"/>
<rect x="807.9" y="329.0" width="4.9" height="4.6" fill="#000"/>
<line x1="818.4" y1="311.0" x2="818.4" y2="341.6" stroke="#000" stroke-width="0.9"/>
<rect x="816.4" y="314.8" width="4.0" height="15.1" fill="#fff" stroke="#000" stroke-width="0.9"/>
<line x1="826.4" y1="294.0" x2="826.4" y2="319.6" stroke="#000" stroke-width="0.9"/>
<line x1="823.9" y1="315.6" x2="828.9" y2="315.6" stroke="#000" stroke-width="1.6"/>
<line x1="834.4" y1="295.0" x2="834.4" y2="336.6" stroke="#000" stroke-width="0.9"/>
<rect x="832.4" y="296.8" width="4.0" height="18.1" fill="#fff" stroke="#000" stroke-width="0.9"/>
<line x1="842.4" y1="295.0" x2="842.4" y2="333.6" stroke="#000" stroke-width="0.9"/>
<rect x="839.9" y="295.0" width="4.9" height="22.6" fill="#000"/>
<line x1="850.4" y1="304.0" x2="850.4" y2="345.6" stroke="#000" stroke-width="0.9"/>
<rect x="848.4" y="306.8" width="4.0" height="12.1" fill="#fff" stroke="#000" stroke-width="0.9"/>
<line x1="858.4" y1="303.0" x2="858.4" y2="324.6" stroke="#000" stroke-width="0.9"/>
<line x1="855.9" y1="304.0" x2="860.9" y2="304.0" stroke="#000" stroke-width="1.6"/>
<line x1="866.4" y1="298.0" x2="866.4" y2="309.6" stroke="#000" stroke-width="0.9"/>
<line x1="863.9" y1="302.0" x2="868.9" y2="302.0" stroke="#000" stroke-width="1.6"/>
<line x1="874.4" y1="279.0" x2="874.4" y2="312.6" stroke="#000" stroke-width="0.9"/>
<rect x="872.4" y="292.8" width="4.0" height="8.1" fill="#fff" stroke="#000" stroke-width="0.9"/>
<line x1="882.4" y1="270.0" x2="882.4" y2="300.6" stroke="#000" stroke-width="0.9"/>
<rect x="880.4" y="274.8" width="4.0" height="16.1" fill="#fff" stroke="#000" stroke-width="0.9"/>
<line x1="890.4" y1="262.0" x2="890.4" y2="285.6" stroke="#000" stroke-width="0.9"/>
<rect x="888.4" y="266.8" width="4.0" height="6.1" fill="#fff" stroke="#000" stroke-width="0.9"/>
<line x1="898.4" y1="248.0" x2="898.4" y2="267.6" stroke="#000" stroke-width="0.9"/>
<rect x="896.4" y="261.8" width="4.0" height="3.1" fill="#fff" stroke="#000" stroke-width="0.9"/>
<line x1="906.4" y1="256.0" x2="906.4" y2="271.6" stroke="#000" stroke-width="0.9"/>
<line x1="903.9" y1="260.0" x2="908.9" y2="260.0" stroke="#000" stroke-width="1.6"/>
<line x1="914.4" y1="260.0" x2="914.4" y2="290.6" stroke="#000" stroke-width="0.9"/>
<rect x="911.9" y="261.0" width="4.9" height="16.6" fill="#000"/>
<line x1="922.4" y1="271.0" x2="922.4" y2="360.6" stroke="#000" stroke-width="0.9"/>
<rect x="919.9" y="277.0" width="4.9" height="73.6" fill="#000"/>
<line x1="930.4" y1="342.0" x2="930.4" y2="403.6" stroke="#000" stroke-width="0.9"/>
<rect x="927.9" y="349.4" width="4.9" height="17.0" fill="#000"/>
<line x1="938.4" y1="332.0" x2="938.4" y2="371.4" stroke="#000" stroke-width="0.9"/>
<rect x="936.4" y="346.8" width="4.0" height="20.1" fill="#fff" stroke="#000" stroke-width="0.9"/>
<line x1="946.4" y1="327.0" x2="946.4" y2="350.6" stroke="#000" stroke-width="0.9"/>
<rect x="944.4" y="328.8" width="4.0" height="17.1" fill="#fff" stroke="#000" stroke-width="0.9"/>
<line x1="954.4" y1="317.0" x2="954.4" y2="331.6" stroke="#000" stroke-width="0.9"/>
<rect x="952.4" y="323.8" width="4.0" height="3.1" fill="#fff" stroke="#000" stroke-width="0.9"/>
<line x1="962.4" y1="312.0" x2="962.4" y2="340.6" stroke="#000" stroke-width="0.9"/>
<rect x="959.9" y="312.0" width="4.9" height="25.6" fill="#000"/>
<line x1="970.4" y1="303.0" x2="970.4" y2="349.6" stroke="#000" stroke-width="0.9"/>
<rect x="968.4" y="321.4" width="4.0" height="16.5" fill="#fff" stroke="#000" stroke-width="0.9"/>
<line x1="978.4" y1="314.0" x2="978.4" y2="411.6" stroke="#000" stroke-width="0.9"/>
<rect x="975.9" y="320.4" width="4.9" height="50.6" fill="#000"/>
<line x1="986.4" y1="350.0" x2="986.4" y2="412.4" stroke="#000" stroke-width="0.9"/>
<rect x="983.9" y="369.0" width="4.9" height="38.4" fill="#000"/>
<line x1="994.4" y1="394.0" x2="994.4" y2="479.6" stroke="#000" stroke-width="0.9"/>
<rect x="991.9" y="406.0" width="4.9" height="30.6" fill="#000"/>
<line x1="1002.4" y1="415.0" x2="1002.4" y2="445.6" stroke="#000" stroke-width="0.9"/>
<rect x="999.9" y="435.4" width="4.9" height="6.2" fill="#000"/>
<line x1="1010.4" y1="400.0" x2="1010.4" y2="422.6" stroke="#000" stroke-width="0.9"/>
<rect x="1008.4" y="404.8" width="4.0" height="9.1" fill="#fff" stroke="#000" stroke-width="0.9"/>
<line x1="1018.4" y1="364.0" x2="1018.4" y2="429.4" stroke="#000" stroke-width="0.9"/>
<rect x="1015.9" y="405.0" width="4.9" height="23.6" fill="#000"/>
<line x1="1026.4" y1="375.0" x2="1026.4" y2="456.6" stroke="#000" stroke-width="0.9"/>
<rect x="1024.4" y="387.8" width="4.0" height="41.1" fill="#fff" stroke="#000" stroke-width="0.9"/>
<line x1="1034.4" y1="352.0" x2="1034.4" y2="387.4" stroke="#000" stroke-width="0.9"/>
<rect x="1032.4" y="360.8" width="4.0" height="26.1" fill="#fff" stroke="#000" stroke-width="0.9"/>
<line x1="1042.4" y1="339.0" x2="1042.4" y2="379.6" stroke="#000" stroke-width="0.9"/>
<rect x="1040.4" y="346.8" width="4.0" height="14.1" fill="#fff" stroke="#000" stroke-width="0.9"/>
<line x1="1050.4" y1="340.0" x2="1050.4" y2="379.6" stroke="#000" stroke-width="0.9"/>
<rect x="1048.0" y="346.0" width="4.9" height="27.4" fill="#000"/>
<line x1="1058.4" y1="356.0" x2="1058.4" y2="375.6" stroke="#000" stroke-width="0.9"/>
<rect x="1056.0" y="368.0" width="4.9" height="5.4" fill="#000"/>
<line x1="1066.4" y1="361.0" x2="1066.4" y2="407.6" stroke="#000" stroke-width="0.9"/>
<rect x="1064.0" y="373.0" width="4.9" height="2.4" fill="#000"/>
<line x1="1074.4" y1="329.0" x2="1074.4" y2="381.6" stroke="#000" stroke-width="0.9"/>
<rect x="1072.4" y="339.8" width="4.0" height="32.7" fill="#fff" stroke="#000" stroke-width="0.9"/>
<line x1="1082.4" y1="328.0" x2="1082.4" y2="342.6" stroke="#000" stroke-width="0.9"/>
<rect x="1080.4" y="337.8" width="4.0" height="2.1" fill="#fff" stroke="#000" stroke-width="0.9"/>
<line x1="1090.4" y1="333.0" x2="1090.4" y2="364.4" stroke="#000" stroke-width="0.9"/>
<rect x="1088.0" y="336.0" width="4.9" height="28.4" fill="#000"/>
<line x1="1098.4" y1="362.0" x2="1098.4" y2="393.6" stroke="#000" stroke-width="0.9"/>
<rect x="1096.0" y="363.0" width="4.9" height="26.4" fill="#000"/>
<line x1="1106.4" y1="387.0" x2="1106.4" y2="410.6" stroke="#000" stroke-width="0.9"/>
<rect x="1104.0" y="397.4" width="4.9" height="10.0" fill="#000"/>
<line x1="1114.4" y1="398.0" x2="1114.4" y2="501.6" stroke="#000" stroke-width="0.9"/>
<rect x="1112.0" y="408.0" width="4.9" height="82.4" fill="#000"/>
<line x1="1122.4" y1="440.0" x2="1122.4" y2="507.0" stroke="#000" stroke-width="0.9"/>
<rect x="1120.4" y="441.8" width="4.0" height="47.1" fill="#fff" stroke="#000" stroke-width="0.9"/>
<line x1="1130.4" y1="413.0" x2="1130.4" y2="454.6" stroke="#000" stroke-width="0.9"/>
<rect x="1128.4" y="427.8" width="4.0" height="13.1" fill="#fff" stroke="#000" stroke-width="0.9"/>
<line x1="1138.4" y1="427.0" x2="1138.4" y2="456.6" stroke="#000" stroke-width="0.9"/>
<rect x="1136.0" y="427.0" width="4.9" height="18.4" fill="#000"/>
<line x1="1146.4" y1="441.0" x2="1146.4" y2="458.6" stroke="#000" stroke-width="0.9"/>
<rect x="1144.0" y="445.0" width="4.9" height="2.4" fill="#000"/>
<line x1="1154.4" y1="420.0" x2="1154.4" y2="459.6" stroke="#000" stroke-width="0.9"/>
<rect x="1152.4" y="429.8" width="4.0" height="3.3" fill="#fff" stroke="#000" stroke-width="0.9"/>
<line x1="1162.4" y1="357.0" x2="1162.4" y2="440.6" stroke="#000" stroke-width="0.9"/>
<rect x="1160.4" y="364.8" width="4.0" height="66.1" fill="#fff" stroke="#000" stroke-width="0.9"/>
<line x1="1170.4" y1="356.0" x2="1170.4" y2="387.6" stroke="#000" stroke-width="0.9"/>
<rect x="1168.0" y="363.0" width="4.9" height="20.4" fill="#000"/>
<line x1="1178.4" y1="378.0" x2="1178.4" y2="403.6" stroke="#000" stroke-width="0.9"/>
<rect x="1176.0" y="382.0" width="4.9" height="11.6" fill="#000"/>
<line x1="1186.4" y1="393.0" x2="1186.4" y2="425.6" stroke="#000" stroke-width="0.9"/>
<rect x="1184.0" y="393.6" width="4.9" height="27.0" fill="#000"/>
<line x1="1194.4" y1="419.0" x2="1194.4" y2="448.6" stroke="#000" stroke-width="0.9"/>
<rect x="1192.0" y="420.0" width="4.9" height="9.4" fill="#000"/>
<line x1="1202.4" y1="419.0" x2="1202.4" y2="440.6" stroke="#000" stroke-width="0.9"/>
<rect x="1200.0" y="423.0" width="4.9" height="12.4" fill="#000"/>
<line x1="1210.4" y1="386.0" x2="1210.4" y2="449.6" stroke="#000" stroke-width="0.9"/>
<line x1="1207.9" y1="429.4" x2="1212.9" y2="429.4" stroke="#000" stroke-width="1.6"/>
<line x1="1218.4" y1="402.0" x2="1218.4" y2="436.6" stroke="#000" stroke-width="0.9"/>
<rect x="1216.4" y="405.8" width="4.0" height="25.1" fill="#fff" stroke="#000" stroke-width="0.9"/>
<line x1="1226.4" y1="403.0" x2="1226.4" y2="465.6" stroke="#000" stroke-width="0.9"/>
<rect x="1224.0" y="406.0" width="4.9" height="30.6" fill="#000"/>
<line x1="1234.4" y1="394.0" x2="1234.4" y2="442.6" stroke="#000" stroke-width="0.9"/>
<rect x="1232.4" y="403.8" width="4.0" height="33.1" fill="#fff" stroke="#000" stroke-width="0.9"/>
<line x1="1242.4" y1="393.0" x2="1242.4" y2="406.6" stroke="#000" stroke-width="0.9"/>
<line x1="1239.9" y1="404.6" x2="1244.9" y2="404.6" stroke="#000" stroke-width="1.6"/>
<line x1="1250.4" y1="408.0" x2="1250.4" y2="419.6" stroke="#000" stroke-width="0.9"/>
<rect x="1248.0" y="413.4" width="4.9" height="5.2" fill="#000"/>
<line x1="1258.4" y1="410.0" x2="1258.4" y2="449.6" stroke="#000" stroke-width="0.9"/>
<rect x="1256.0" y="418.0" width="4.9" height="9.4" fill="#000"/>
<line x1="1266.4" y1="412.0" x2="1266.4" y2="439.6" stroke="#000" stroke-width="0.9"/>
<rect x="1264.4" y="422.8" width="4.0" height="5.1" fill="#fff" stroke="#000" stroke-width="0.9"/>
<line x1="1274.4" y1="418.0" x2="1274.4" y2="458.6" stroke="#000" stroke-width="0.9"/>
<rect x="1272.0" y="422.4" width="4.9" height="5.0" fill="#000"/>
<line x1="1282.4" y1="420.0" x2="1282.4" y2="435.6" stroke="#000" stroke-width="0.9"/>
<line x1="1279.9" y1="427.4" x2="1284.9" y2="427.4" stroke="#000" stroke-width="1.6"/>
<line x1="1290.4" y1="427.0" x2="1290.4" y2="445.4" stroke="#000" stroke-width="0.9"/>
<rect x="1288.0" y="428.0" width="4.9" height="16.4" fill="#000"/>
<line x1="1298.4" y1="438.0" x2="1298.4" y2="447.6" stroke="#000" stroke-width="0.9"/>
<rect x="1296.0" y="441.0" width="4.9" height="2.4" fill="#000"/>
<line x1="1306.4" y1="381.0" x2="1306.4" y2="442.4" stroke="#000" stroke-width="0.9"/>
<rect x="1304.4" y="393.8" width="4.0" height="47.1" fill="#fff" stroke="#000" stroke-width="0.9"/>
<line x1="1314.4" y1="375.3" x2="1314.4" y2="411.4" stroke="#000" stroke-width="0.9"/>
<rect x="1312.0" y="392.4" width="4.9" height="3.2" fill="#000"/>
<line x1="1322.4" y1="361.3" x2="1322.4" y2="400.5" stroke="#000" stroke-width="0.9"/>
<rect x="1320.4" y="365.8" width="4.0" height="30.2" fill="#fff" stroke="#000" stroke-width="0.9"/>
<line x1="1330.4" y1="357.0" x2="1330.4" y2="370.3" stroke="#000" stroke-width="0.9"/>
<rect x="1328.4" y="362.8" width="4.0" height="3.1" fill="#fff" stroke="#000" stroke-width="0.9"/>
<line x1="1338.4" y1="352.0" x2="1338.4" y2="370.8" stroke="#000" stroke-width="0.9"/>
<rect x="1336.4" y="352.4" width="4.0" height="9.6" fill="#fff" stroke="#000" stroke-width="0.9"/>
<line x1="1346.4" y1="358.2" x2="1346.4" y2="378.3" stroke="#000" stroke-width="0.9"/>
<rect x="1344.0" y="359.2" width="4.9" height="19.1" fill="#000"/>
<line x1="1354.4" y1="336.0" x2="1354.4" y2="390.7" stroke="#000" stroke-width="0.9"/>
<rect x="1352.4" y="360.8" width="4.0" height="12.3" fill="#fff" stroke="#000" stroke-width="0.9"/>
<line x1="1362.4" y1="339.0" x2="1362.4" y2="368.8" stroke="#000" stroke-width="0.9"/>
<rect x="1360.4" y="350.4" width="4.0" height="7.6" fill="#fff" stroke="#000" stroke-width="0.9"/>
<line x1="1370.4" y1="320.9" x2="1370.4" y2="352.0" stroke="#000" stroke-width="0.9"/>
<rect x="1368.4" y="339.8" width="4.0" height="11.8" fill="#fff" stroke="#000" stroke-width="0.9"/>
<line x1="1378.4" y1="337.0" x2="1378.4" y2="350.0" stroke="#000" stroke-width="0.9"/>
<rect x="1376.0" y="339.0" width="4.9" height="11.0" fill="#000"/>
<line x1="1386.4" y1="341.0" x2="1386.4" y2="350.0" stroke="#000" stroke-width="0.9"/>
<rect x="1384.4" y="341.8" width="4.0" height="7.7" fill="#fff" stroke="#000" stroke-width="0.9"/>
<line x1="1280.6" y1="449.0" x2="1386.3" y2="335.9" stroke="#ff0000" stroke-width="3.2"/>
<polygon points="1391.2,330.6 1388.3,340.5 1381.6,334.2" fill="#ff0000"/>
<rect x="1336" y="350" width="104" height="6.8" fill="#00ff00"/>
<rect x="827.4" y="238.4" width="61.0" height="18.2" fill="#fff" stroke="#ff0000" stroke-width="1"/>
<text x="829.8" y="253.2" font-size="15.40" fill="#ff0000" textLength="56.0" lengthAdjust="spacingAndGlyphs" >28223.8</text>
<line x1="888.4" y1="247.4" x2="898.4" y2="247.4" stroke="#ff0000" stroke-width="0.9"/>
<rect x="643.4" y="551.4" width="61.2" height="18.0" fill="#fff" stroke="#ff0000" stroke-width="1"/>
<text x="645.8" y="566.1" font-size="15.40" fill="#ff0000" textLength="56.2" lengthAdjust="spacingAndGlyphs" >27037.9</text>
<line x1="704.6" y1="560.4" x2="714.4" y2="560.4" stroke="#ff0000" stroke-width="0.9"/>
<rect x="1011.4" y="317.4" width="61.0" height="18.0" fill="#fff" stroke="#ff0000" stroke-width="1"/>
<text x="1013.8" y="332.1" font-size="15.40" fill="#ff0000" textLength="56.0" lengthAdjust="spacingAndGlyphs" >27923.5</text>
<line x1="1072.4" y1="326.4" x2="1082.4" y2="326.4" stroke="#ff0000" stroke-width="0.9"/>
<rect x="1051.4" y="498.4" width="61.0" height="18.0" fill="#fff" stroke="#ff0000" stroke-width="1"/>
<text x="1053.8" y="513.1" font-size="15.40" fill="#ff0000" textLength="56.0" lengthAdjust="spacingAndGlyphs" >27239.5</text>
<line x1="1112.4" y1="507.0" x2="1122.4" y2="507.0" stroke="#ff0000" stroke-width="0.9"/>
<rect x="1251.4" y="342.4" width="61.2" height="17.8" fill="#fff" stroke="#ff0000" stroke-width="1"/>
<text x="1253.8" y="357.0" font-size="15.40" fill="#ff0000" textLength="56.2" lengthAdjust="spacingAndGlyphs" >27830.6</text>
<line x1="1312.6" y1="351.3" x2="1323.0" y2="351.3" stroke="#ff0000" stroke-width="0.9"/>
<rect x="1313.2" y="349.8" width="2.6" height="3" fill="#fff" stroke="#ff0000" stroke-width="0.8"/>
<text x="1459.6" y="377.2" font-size="20" fill="#19f219" font-weight="300" textLength="107" lengthAdjust="spacing">多空转折点</text>
<line x1="1455" y1="371.4" x2="1572" y2="371.4" stroke="#0000ff" stroke-width="1"/>
<line x1="2.4" y1="622.3" x2="2.4" y2="613.0" stroke="#c4c4c4" stroke-width="0.9"/>
<line x1="10.4" y1="622.3" x2="10.4" y2="620.0" stroke="#c4c4c4" stroke-width="0.9"/>
<line x1="18.4" y1="622.3" x2="18.4" y2="621.5" stroke="#c4c4c4" stroke-width="0.9"/>
<line x1="34.4" y1="622.3" x2="34.4" y2="623.6" stroke="#c4c4c4" stroke-width="0.9"/>
<line x1="42.4" y1="622.3" x2="42.4" y2="624.4" stroke="#c4c4c4" stroke-width="0.9"/>
<line x1="50.4" y1="622.3" x2="50.4" y2="624.4" stroke="#c4c4c4" stroke-width="0.9"/>
<line x1="58.4" y1="622.3" x2="58.4" y2="626.6" stroke="#c4c4c4" stroke-width="0.9"/>
<line x1="66.4" y1="622.3" x2="66.4" y2="633.6" stroke="#c4c4c4" stroke-width="0.9"/>
<line x1="74.4" y1="622.3" x2="74.4" y2="636.4" stroke="#c4c4c4" stroke-width="0.9"/>
<line x1="82.4" y1="622.3" x2="82.4" y2="639.4" stroke="#c4c4c4" stroke-width="0.9"/>
<line x1="90.4" y1="622.3" x2="90.4" y2="638.4" stroke="#c4c4c4" stroke-width="0.9"/>
<line x1="98.4" y1="622.3" x2="98.4" y2="636.4" stroke="#c4c4c4" stroke-width="0.9"/>
<line x1="106.4" y1="622.3" x2="106.4" y2="639.4" stroke="#c4c4c4" stroke-width="0.9"/>
<line x1="114.4" y1="622.3" x2="114.4" y2="643.6" stroke="#c4c4c4" stroke-width="0.9"/>
<line x1="122.4" y1="622.3" x2="122.4" y2="642.4" stroke="#c4c4c4" stroke-width="0.9"/>
<line x1="130.4" y1="622.3" x2="130.4" y2="641.4" stroke="#c4c4c4" stroke-width="0.9"/>
<line x1="138.4" y1="622.3" x2="138.4" y2="640.4" stroke="#c4c4c4" stroke-width="0.9"/>
<line x1="146.4" y1="622.3" x2="146.4" y2="641.4" stroke="#c4c4c4" stroke-width="0.9"/>
<line x1="154.4" y1="622.3" x2="154.4" y2="637.4" stroke="#c4c4c4" stroke-width="0.9"/>
<line x1="162.4" y1="622.3" x2="162.4" y2="635.4" stroke="#c4c4c4" stroke-width="0.9"/>
<line x1="170.4" y1="622.3" x2="170.4" y2="634.4" stroke="#c4c4c4" stroke-width="0.9"/>
<line x1="178.4" y1="622.3" x2="178.4" y2="633.4" stroke="#c4c4c4" stroke-width="0.9"/>
<line x1="186.4" y1="622.3" x2="186.4" y2="631.4" stroke="#c4c4c4" stroke-width="0.9"/>
<line x1="194.4" y1="622.3" x2="194.4" y2="632.4" stroke="#c4c4c4" stroke-width="0.9"/>
<line x1="202.4" y1="622.3" x2="202.4" y2="635.4" stroke="#c4c4c4" stroke-width="0.9"/>
<line x1="210.4" y1="622.3" x2="210.4" y2="638.4" stroke="#c4c4c4" stroke-width="0.9"/>
<line x1="218.4" y1="622.3" x2="218.4" y2="638.4" stroke="#c4c4c4" stroke-width="0.9"/>
<line x1="226.4" y1="622.3" x2="226.4" y2="639.4" stroke="#c4c4c4" stroke-width="0.9"/>
<line x1="234.4" y1="622.3" x2="234.4" y2="639.4" stroke="#c4c4c4" stroke-width="0.9"/>
<line x1="242.4" y1="622.3" x2="242.4" y2="637.4" stroke="#c4c4c4" stroke-width="0.9"/>
<line x1="250.4" y1="622.3" x2="250.4" y2="636.4" stroke="#c4c4c4" stroke-width="0.9"/>
<line x1="258.4" y1="622.3" x2="258.4" y2="638.4" stroke="#c4c4c4" stroke-width="0.9"/>
<line x1="266.4" y1="622.3" x2="266.4" y2="648.4" stroke="#c4c4c4" stroke-width="0.9"/>
<line x1="274.4" y1="622.3" x2="274.4" y2="653.4" stroke="#c4c4c4" stroke-width="0.9"/>
<line x1="282.4" y1="622.3" x2="282.4" y2="658.4" stroke="#c4c4c4" stroke-width="0.9"/>
<line x1="290.4" y1="622.3" x2="290.4" y2="665.4" stroke="#c4c4c4" stroke-width="0.9"/>
<line x1="298.4" y1="622.3" x2="298.4" y2="666.6" stroke="#c4c4c4" stroke-width="0.9"/>
<line x1="306.4" y1="622.3" x2="306.4" y2="664.4" stroke="#c4c4c4" stroke-width="0.9"/>
<line x1="314.4" y1="622.3" x2="314.4" y2="665.4" stroke="#c4c4c4" stroke-width="0.9"/>
<line x1="322.4" y1="622.3" x2="322.4" y2="664.4" stroke="#c4c4c4" stroke-width="0.9"/>
<line x1="330.4" y1="622.3" x2="330.4" y2="663.4" stroke="#c4c4c4" stroke-width="0.9"/>
<line x1="338.4" y1="622.3" x2="338.4" y2="663.4" stroke="#c4c4c4" stroke-width="0.9"/>
<line x1="346.4" y1="622.3" x2="346.4" y2="668.6" stroke="#c4c4c4" stroke-width="0.9"/>
<line x1="354.4" y1="622.3" x2="354.4" y2="687.6" stroke="#c4c4c4" stroke-width="0.9"/>
<line x1="362.4" y1="622.3" x2="362.4" y2="701.6" stroke="#c4c4c4" stroke-width="0.9"/>
<line x1="370.4" y1="622.3" x2="370.4" y2="708.6" stroke="#c4c4c4" stroke-width="0.9"/>
<line x1="378.4" y1="622.3" x2="378.4" y2="712.6" stroke="#c4c4c4" stroke-width="0.9"/>
<line x1="386.4" y1="622.3" x2="386.4" y2="717.6" stroke="#c4c4c4" stroke-width="0.9"/>
<line x1="394.4" y1="622.3" x2="394.4" y2="723.6" stroke="#c4c4c4" stroke-width="0.9"/>
<line x1="402.4" y1="622.3" x2="402.4" y2="702.6" stroke="#c4c4c4" stroke-width="0.9"/>
<line x1="410.4" y1="622.3" x2="410.4" y2="681.6" stroke="#c4c4c4" stroke-width="0.9"/>
<line x1="418.4" y1="622.3" x2="418.4" y2="661.6" stroke="#c4c4c4" stroke-width="0.9"/>
<line x1="426.4" y1="622.3" x2="426.4" y2="645.6" stroke="#c4c4c4" stroke-width="0.9"/>
<line x1="434.4" y1="622.3" x2="434.4" y2="634.6" stroke="#c4c4c4" stroke-width="0.9"/>
<line x1="442.4" y1="622.3" x2="442.4" y2="623.6" stroke="#c4c4c4" stroke-width="0.9"/>
<line x1="450.4" y1="622.3" x2="450.4" y2="621.3" stroke="#c4c4c4" stroke-width="0.9"/>
<line x1="458.4" y1="622.3" x2="458.4" y2="612.0" stroke="#c4c4c4" stroke-width="0.9"/>
<line x1="466.4" y1="622.3" x2="466.4" y2="604.0" stroke="#c4c4c4" stroke-width="0.9"/>
<line x1="474.4" y1="622.3" x2="474.4" y2="597.0" stroke="#c4c4c4" stroke-width="0.9"/>
<line x1="482.4" y1="622.3" x2="482.4" y2="591.0" stroke="#c4c4c4" stroke-width="0.9"/>
<line x1="490.4" y1="622.3" x2="490.4" y2="586.0" stroke="#c4c4c4" stroke-width="0.9"/>
<line x1="498.4" y1="622.3" x2="498.4" y2="584.0" stroke="#c4c4c4" stroke-width="0.9"/>
<line x1="506.4" y1="622.3" x2="506.4" y2="587.0" stroke="#c4c4c4" stroke-width="0.9"/>
<line x1="514.4" y1="622.3" x2="514.4" y2="591.0" stroke="#c4c4c4" stroke-width="0.9"/>
<line x1="522.4" y1="622.3" x2="522.4" y2="594.0" stroke="#c4c4c4" stroke-width="0.9"/>
<line x1="530.4" y1="622.3" x2="530.4" y2="597.0" stroke="#c4c4c4" stroke-width="0.9"/>
<line x1="538.4" y1="622.3" x2="538.4" y2="596.0" stroke="#c4c4c4" stroke-width="0.9"/>
<line x1="546.4" y1="622.3" x2="546.4" y2="596.0" stroke="#c4c4c4" stroke-width="0.9"/>
<line x1="554.4" y1="622.3" x2="554.4" y2="595.0" stroke="#c4c4c4" stroke-width="0.9"/>
<line x1="562.4" y1="622.3" x2="562.4" y2="597.0" stroke="#c4c4c4" stroke-width="0.9"/>
<line x1="570.4" y1="622.3" x2="570.4" y2="600.0" stroke="#c4c4c4" stroke-width="0.9"/>
<line x1="578.4" y1="622.3" x2="578.4" y2="602.0" stroke="#c4c4c4" stroke-width="0.9"/>
<line x1="586.4" y1="622.3" x2="586.4" y2="611.0" stroke="#c4c4c4" stroke-width="0.9"/>
<line x1="602.4" y1="622.3" x2="602.4" y2="630.6" stroke="#c4c4c4" stroke-width="0.9"/>
<line x1="610.4" y1="622.3" x2="610.4" y2="641.6" stroke="#c4c4c4" stroke-width="0.9"/>
<line x1="618.4" y1="622.3" x2="618.4" y2="650.6" stroke="#c4c4c4" stroke-width="0.9"/>
<line x1="626.4" y1="622.3" x2="626.4" y2="658.6" stroke="#c4c4c4" stroke-width="0.9"/>
<line x1="634.4" y1="622.3" x2="634.4" y2="662.6" stroke="#c4c4c4" stroke-width="0.9"/>
<line x1="642.4" y1="622.3" x2="642.4" y2="664.6" stroke="#c4c4c4" stroke-width="0.9"/>
<line x1="650.4" y1="622.3" x2="650.4" y2="669.6" stroke="#c4c4c4" stroke-width="0.9"/>
<line x1="658.4" y1="622.3" x2="658.4" y2="676.6" stroke="#c4c4c4" stroke-width="0.9"/>
<line x1="666.4" y1="622.3" x2="666.4" y2="683.6" stroke="#c4c4c4" stroke-width="0.9"/>
<line x1="674.4" y1="622.3" x2="674.4" y2="692.6" stroke="#c4c4c4" stroke-width="0.9"/>
<line x1="682.4" y1="622.3" x2="682.4" y2="697.6" stroke="#c4c4c4" stroke-width="0.9"/>
<line x1="690.4" y1="622.3" x2="690.4" y2="704.6" stroke="#c4c4c4" stroke-width="0.9"/>
<line x1="698.4" y1="622.3" x2="698.4" y2="718.6" stroke="#c4c4c4" stroke-width="0.9"/>
<line x1="706.4" y1="622.3" x2="706.4" y2="731.6" stroke="#c4c4c4" stroke-width="0.9"/>
<line x1="714.4" y1="622.3" x2="714.4" y2="735.6" stroke="#c4c4c4" stroke-width="0.9"/>
<line x1="722.4" y1="622.3" x2="722.4" y2="734.6" stroke="#c4c4c4" stroke-width="0.9"/>
<line x1="730.4" y1="622.3" x2="730.4" y2="730.6" stroke="#c4c4c4" stroke-width="0.9"/>
<line x1="738.4" y1="622.3" x2="738.4" y2="726.6" stroke="#c4c4c4" stroke-width="0.9"/>
<line x1="746.4" y1="622.3" x2="746.4" y2="713.6" stroke="#c4c4c4" stroke-width="0.9"/>
<line x1="754.4" y1="622.3" x2="754.4" y2="701.6" stroke="#c4c4c4" stroke-width="0.9"/>
<line x1="762.4" y1="622.3" x2="762.4" y2="690.6" stroke="#c4c4c4" stroke-width="0.9"/>
<line x1="770.4" y1="622.3" x2="770.4" y2="680.6" stroke="#c4c4c4" stroke-width="0.9"/>
<line x1="778.4" y1="622.3" x2="778.4" y2="678.6" stroke="#c4c4c4" stroke-width="0.9"/>
<line x1="786.4" y1="622.3" x2="786.4" y2="671.6" stroke="#c4c4c4" stroke-width="0.9"/>
<line x1="794.4" y1="622.3" x2="794.4" y2="663.6" stroke="#c4c4c4" stroke-width="0.9"/>
<line x1="802.4" y1="622.3" x2="802.4" y2="651.6" stroke="#c4c4c4" stroke-width="0.9"/>
<line x1="810.4" y1="622.3" x2="810.4" y2="642.6" stroke="#c4c4c4" stroke-width="0.9"/>
<line x1="818.4" y1="622.3" x2="818.4" y2="632.6" stroke="#c4c4c4" stroke-width="0.9"/>
<line x1="826.4" y1="622.3" x2="826.4" y2="625.6" stroke="#c4c4c4" stroke-width="0.9"/>
<line x1="834.4" y1="622.3" x2="834.4" y2="619.0" stroke="#c4c4c4" stroke-width="0.9"/>
<line x1="842.4" y1="622.3" x2="842.4" y2="615.0" stroke="#c4c4c4" stroke-width="0.9"/>
<line x1="850.4" y1="622.3" x2="850.4" y2="611.0" stroke="#c4c4c4" stroke-width="0.9"/>
<line x1="858.4" y1="622.3" x2="858.4" y2="607.0" stroke="#c4c4c4" stroke-width="0.9"/>
<line x1="866.4" y1="622.3" x2="866.4" y2="604.0" stroke="#c4c4c4" stroke-width="0.9"/>
<line x1="874.4" y1="622.3" x2="874.4" y2="601.0" stroke="#c4c4c4" stroke-width="0.9"/>
<line x1="882.4" y1="622.3" x2="882.4" y2="597.0" stroke="#c4c4c4" stroke-width="0.9"/>
<line x1="890.4" y1="622.3" x2="890.4" y2="593.0" stroke="#c4c4c4" stroke-width="0.9"/>
<line x1="898.4" y1="622.3" x2="898.4" y2="590.0" stroke="#c4c4c4" stroke-width="0.9"/>
<line x1="906.4" y1="622.3" x2="906.4" y2="587.0" stroke="#c4c4c4" stroke-width="0.9"/>
<line x1="914.4" y1="622.3" x2="914.4" y2="588.0" stroke="#c4c4c4" stroke-width="0.9"/>
<line x1="922.4" y1="622.3" x2="922.4" y2="597.0" stroke="#c4c4c4" stroke-width="0.9"/>
<line x1="930.4" y1="622.3" x2="930.4" y2="606.0" stroke="#c4c4c4" stroke-width="0.9"/>
<line x1="938.4" y1="622.3" x2="938.4" y2="612.0" stroke="#c4c4c4" stroke-width="0.9"/>
<line x1="946.4" y1="622.3" x2="946.4" y2="614.0" stroke="#c4c4c4" stroke-width="0.9"/>
<line x1="954.4" y1="622.3" x2="954.4" y2="615.0" stroke="#c4c4c4" stroke-width="0.9"/>
<line x1="962.4" y1="622.3" x2="962.4" y2="618.0" stroke="#c4c4c4" stroke-width="0.9"/>
<line x1="970.4" y1="622.3" x2="970.4" y2="618.0" stroke="#c4c4c4" stroke-width="0.9"/>
<line x1="986.4" y1="622.3" x2="986.4" y2="631.6" stroke="#c4c4c4" stroke-width="0.9"/>
<line x1="994.4" y1="622.3" x2="994.4" y2="641.6" stroke="#c4c4c4" stroke-width="0.9"/>
<line x1="1002.4" y1="622.3" x2="1002.4" y2="649.6" stroke="#c4c4c4" stroke-width="0.9"/>
<line x1="1010.4" y1="622.3" x2="1010.4" y2="651.6" stroke="#c4c4c4" stroke-width="0.9"/>
<line x1="1018.4" y1="622.3" x2="1018.4" y2="655.6" stroke="#c4c4c4" stroke-width="0.9"/>
<line x1="1026.4" y1="622.3" x2="1026.4" y2="653.6" stroke="#c4c4c4" stroke-width="0.9"/>
<line x1="1034.4" y1="622.3" x2="1034.4" y2="648.6" stroke="#c4c4c4" stroke-width="0.9"/>
<line x1="1042.4" y1="622.3" x2="1042.4" y2="642.6" stroke="#c4c4c4" stroke-width="0.9"/>
<line x1="1050.4" y1="622.3" x2="1050.4" y2="641.6" stroke="#c4c4c4" stroke-width="0.9"/>
<line x1="1058.4" y1="622.3" x2="1058.4" y2="639.6" stroke="#c4c4c4" stroke-width="0.9"/>
<line x1="1066.4" y1="622.3" x2="1066.4" y2="638.6" stroke="#c4c4c4" stroke-width="0.9"/>
<line x1="1074.4" y1="622.3" x2="1074.4" y2="632.6" stroke="#c4c4c4" stroke-width="0.9"/>
<line x1="1082.4" y1="622.3" x2="1082.4" y2="628.6" stroke="#c4c4c4" stroke-width="0.9"/>
<line x1="1090.4" y1="622.3" x2="1090.4" y2="627.6" stroke="#c4c4c4" stroke-width="0.9"/>
<line x1="1098.4" y1="622.3" x2="1098.4" y2="630.6" stroke="#c4c4c4" stroke-width="0.9"/>
<line x1="1106.4" y1="622.3" x2="1106.4" y2="634.6" stroke="#c4c4c4" stroke-width="0.9"/>
<line x1="1114.4" y1="622.3" x2="1114.4" y2="646.6" stroke="#c4c4c4" stroke-width="0.9"/>
<line x1="1122.4" y1="622.3" x2="1122.4" y2="650.6" stroke="#c4c4c4" stroke-width="0.9"/>
<line x1="1130.4" y1="622.3" x2="1130.4" y2="651.6" stroke="#c4c4c4" stroke-width="0.9"/>
<line x1="1138.4" y1="622.3" x2="1138.4" y2="654.6" stroke="#c4c4c4" stroke-width="0.9"/>
<line x1="1146.4" y1="622.3" x2="1146.4" y2="655.6" stroke="#c4c4c4" stroke-width="0.9"/>
<line x1="1154.4" y1="622.3" x2="1154.4" y2="654.6" stroke="#c4c4c4" stroke-width="0.9"/>
<line x1="1162.4" y1="622.3" x2="1162.4" y2="646.6" stroke="#c4c4c4" stroke-width="0.9"/>
<line x1="1170.4" y1="622.3" x2="1170.4" y2="641.6" stroke="#c4c4c4" stroke-width="0.9"/>
<line x1="1178.4" y1="622.3" x2="1178.4" y2="638.6" stroke="#c4c4c4" stroke-width="0.9"/>
<line x1="1186.4" y1="622.3" x2="1186.4" y2="638.6" stroke="#c4c4c4" stroke-width="0.9"/>
<line x1="1194.4" y1="622.3" x2="1194.4" y2="640.6" stroke="#c4c4c4" stroke-width="0.9"/>
<line x1="1202.4" y1="622.3" x2="1202.4" y2="641.6" stroke="#c4c4c4" stroke-width="0.9"/>
<line x1="1210.4" y1="622.3" x2="1210.4" y2="642.6" stroke="#c4c4c4" stroke-width="0.9"/>
<line x1="1218.4" y1="622.3" x2="1218.4" y2="639.6" stroke="#c4c4c4" stroke-width="0.9"/>
<line x1="1226.4" y1="622.3" x2="1226.4" y2="639.6" stroke="#c4c4c4" stroke-width="0.9"/>
<line x1="1234.4" y1="622.3" x2="1234.4" y2="637.6" stroke="#c4c4c4" stroke-width="0.9"/>
<line x1="1242.4" y1="622.3" x2="1242.4" y2="635.6" stroke="#c4c4c4" stroke-width="0.9"/>
<line x1="1250.4" y1="622.3" x2="1250.4" y2="634.8" stroke="#c4c4c4" stroke-width="0.9"/>
<line x1="1258.4" y1="622.3" x2="1258.4" y2="634.8" stroke="#c4c4c4" stroke-width="0.9"/>
<line x1="1266.4" y1="622.3" x2="1266.4" y2="634.8" stroke="#c4c4c4" stroke-width="0.9"/>
<line x1="1274.4" y1="622.3" x2="1274.4" y2="634.8" stroke="#c4c4c4" stroke-width="0.9"/>
<line x1="1282.4" y1="622.3" x2="1282.4" y2="634.8" stroke="#c4c4c4" stroke-width="0.9"/>
<line x1="1290.4" y1="622.3" x2="1290.4" y2="635.6" stroke="#c4c4c4" stroke-width="0.9"/>
<line x1="1298.4" y1="622.3" x2="1298.4" y2="636.8" stroke="#c4c4c4" stroke-width="0.9"/>
<line x1="1306.4" y1="622.3" x2="1306.4" y2="630.3" stroke="#c4c4c4" stroke-width="0.9"/>
<line x1="1314.4" y1="622.3" x2="1314.4" y2="626.8" stroke="#c4c4c4" stroke-width="0.9"/>
<line x1="1330.4" y1="622.3" x2="1330.4" y2="618.0" stroke="#c4c4c4" stroke-width="0.9"/>
<line x1="1338.4" y1="622.3" x2="1338.4" y2="612.0" stroke="#c4c4c4" stroke-width="0.9"/>
<line x1="1346.4" y1="622.3" x2="1346.4" y2="611.0" stroke="#c4c4c4" stroke-width="0.9"/>
<line x1="1354.4" y1="622.3" x2="1354.4" y2="608.0" stroke="#c4c4c4" stroke-width="0.9"/>
<line x1="1362.4" y1="622.3" x2="1362.4" y2="606.2" stroke="#c4c4c4" stroke-width="0.9"/>
<line x1="1370.4" y1="622.3" x2="1370.4" y2="602.0" stroke="#c4c4c4" stroke-width="0.9"/>
<line x1="1378.4" y1="622.3" x2="1378.4" y2="601.5" stroke="#c4c4c4" stroke-width="0.9"/>
<line x1="1386.4" y1="622.3" x2="1386.4" y2="600.3" stroke="#c4c4c4" stroke-width="0.9"/>
<polyline points="0.0,602.0 10.0,605.0 20.0,608.0 30.0,611.6 40.0,615.0 50.0,618.0 62.0,621.0 68.0,623.6 76.0,627.0 88.0,629.6 100.0,633.0 112.0,635.6 124.0,639.0 136.0,640.0 146.0,641.0 160.0,640.4 176.0,639.6 188.0,638.0 200.0,636.4 220.0,636.4 240.0,637.0 260.0,638.0 270.0,641.0 280.0,644.0 290.0,647.4 300.0,651.0 310.0,654.0 320.0,658.0 330.0,661.6 342.0,664.0 352.0,667.0 362.0,672.0 372.0,679.0 382.0,684.0 392.0,692.0 400.0,698.0 410.0,701.0 420.0,699.0 428.0,695.0 434.0,689.0 440.0,682.0 448.0,671.0 458.0,656.0 468.0,640.0 480.0,624.0 490.0,612.0 500.0,604.0 510.0,599.0 522.0,593.6 534.0,590.6 548.0,590.0 560.0,592.0 574.0,595.0 586.0,598.0 600.0,604.0 612.0,611.0 624.0,620.0 636.0,632.0 648.0,644.0 660.0,654.0 672.0,664.0 682.0,673.0 692.0,681.0 704.0,692.0 716.0,704.0 728.0,714.0 736.0,719.0 744.0,721.4 754.0,722.0 762.0,721.0 772.0,715.6 784.0,706.0 796.0,694.0 808.0,680.0 820.0,666.0 832.0,654.0 844.0,643.0 856.0,632.0 868.0,622.0 880.0,613.0 890.0,608.0 900.0,602.0 910.0,598.0 918.0,595.6 932.0,595.4 944.0,597.0 956.0,600.0 968.0,604.4 980.0,610.0 988.0,615.0 996.0,621.0 1004.0,625.0 1012.0,629.0 1020.0,635.0 1028.0,639.0 1038.0,644.0 1048.0,647.0 1058.0,648.0 1070.0,647.0 1080.0,644.0 1090.0,640.4 1100.0,637.0 1110.0,636.0 1120.0,636.6 1132.0,639.0 1144.0,641.4 1152.0,646.0 1160.0,648.0 1172.0,649.4 1186.0,648.4 1200.0,646.4 1216.0,644.0 1232.0,641.4 1244.0,639.6 1261.0,639.2 1281.0,637.4 1308.0,636.2 1321.0,633.3 1339.0,629.4 1352.0,624.4 1362.4,619.0 1369.5,615.0 1382.4,609.0 1386.4,607.0" fill="none" stroke="#ff0000" stroke-width="0.95" stroke-dasharray="3.2 2.6"/>
<line x1="1254.7" y1="651.5" x2="1378.9" y2="602.1" stroke="#ff0000" stroke-width="3.3"/>
<polygon points="1386.8,599.0 1378.8,607.2 1375.3,598.5" fill="#ff0000"/>
<text x="0.3" y="587.4" font-size="10.20" fill="#000" textLength="115.5" lengthAdjust="spacingAndGlyphs" >MACD(12,26,9) 63.00 36.19</text>
<polyline points="-5.6,834.0 2.4,838.0 10.4,855.0 18.4,840.0 26.4,835.4 34.4,841.0 42.4,839.0 50.4,835.4 58.4,843.0 66.4,859.4 74.4,849.0 82.4,852.4 90.4,840.0 98.4,835.4 106.4,849.0 114.4,854.4 122.4,840.4 130.4,839.0 138.4,838.0 146.4,843.0 154.4,835.4 162.4,836.4 170.4,837.4 178.4,837.4 186.4,836.4 194.4,842.0 202.4,853.4 210.4,852.0 218.4,847.4 226.4,848.4 234.4,845.0 242.4,840.4 250.4,840.4 258.4,857.0 266.4,873.4 274.4,865.0 282.4,867.0 290.4,874.0 298.4,858.4 306.4,849.4 314.4,855.0 322.4,853.4 330.4,852.4 338.4,857.0 346.4,867.0 354.4,887.4 362.4,887.4 370.4,874.4 378.4,873.0 386.4,877.0 394.4,880.4 402.4,827.0 410.4,821.4 418.4,818.4 426.4,819.4 434.4,821.4 442.4,819.4 450.4,826.4 458.4,818.4 466.4,817.4 474.4,816.0 482.4,814.0 490.4,812.4 498.4,818.4 506.4,828.0 514.4,829.4 522.4,829.4 530.4,830.4 538.4,821.4 546.4,823.4 554.4,822.4 562.4,827.0 570.4,830.4 578.4,831.4 586.4,847.4 594.4,858.4 602.4,857.4 610.4,863.0 618.4,864.4 626.4,868.4 634.4,859.0 642.4,855.0 650.4,863.4 658.4,869.4 666.4,873.4 674.4,877.4 682.4,877.4 690.4,881.0 698.4,889.0 706.4,892.4 714.4,872.4 722.4,865.4 730.4,862.0 738.4,863.0 746.4,840.0 754.4,838.0 762.4,838.0 770.4,834.0 778.4,849.4 786.4,837.4 794.4,834.0 802.4,824.4 810.4,825.4 818.4,821.4 826.4,822.4 834.4,818.4 842.4,824.4 850.4,821.4 858.4,821.4 866.4,820.0 874.4,818.0 882.4,813.4 890.4,811.4 898.4,810.0 906.4,810.0 914.4,818.4 922.4,843.4 930.4,848.0 938.4,840.0 946.4,835.0 954.4,833.0 962.4,838.0 970.4,832.4 978.4,847.4 986.4,856.0 994.4,862.4 1002.4,863.4 1010.4,849.4 1018.4,854.0 1026.4,841.4 1034.4,833.0 1042.4,830.0 1050.4,837.4 1058.4,837.0 1066.4,838.4 1074.4,827.0 1082.4,826.0 1090.4,836.0 1098.4,842.4 1106.4,847.0 1114.4,864.4 1122.4,849.0 1130.4,845.0 1138.4,849.4 1146.4,849.4 1154.4,844.4 1162.4,827.0 1170.4,832.0 1178.4,834.0 1186.4,841.4 1194.4,843.4 1202.4,844.4 1210.4,843.0 1218.4,835.4 1226.4,843.4 1234.4,833.0 1242.4,834.4 1250.4,838.0 1258.4,840.4 1266.4,839.4 1274.4,840.6 1282.4,840.6 1290.4,846.5 1298.4,845.3 1306.4,826.3 1314.4,827.7 1322.4,817.4 1330.4,817.4 1338.4,813.3 1346.4,825.6 1354.4,820.0 1362.4,817.0 1370.4,813.5 1378.4,818.6 1386.4,815.0" fill="none" stroke="#1e90ff" stroke-width="1" stroke-linejoin="round"/>
<line x1="1273.5" y1="843.6" x2="1383.7" y2="806.7" stroke="#ff0000" stroke-width="3.3"/>
<polygon points="1391.8,804.0 1383.3,811.7 1380.4,803.0" fill="#ff0000"/>
<text x="-1.2" y="758.8" font-size="10.20" fill="#000" textLength="66.6" lengthAdjust="spacingAndGlyphs" >RSI(14) 60.5917</text>
<polygon points="0,25.6 0,29.8 4.2,29.8" fill="#000"/>
<text x="8.6" y="31.2" font-size="10.00" fill="#000" textLength="197.0" lengthAdjust="spacingAndGlyphs" xml:space="preserve">JPN225-,H4&#160; 27835.0 27872.5 27812.5 27867.5</text>
<rect x="0" y="38.8" width="216" height="57.4" fill="#fff"/>
<rect x="0" y="38.8" width="48.2" height="24.6" fill="url(#gs)"/>
<rect x="164.4" y="38.8" width="51.6" height="24.6" fill="url(#gs)"/>
<rect x="0" y="63" width="106" height="33.2" fill="url(#gp)"/>
<rect x="108" y="63" width="108" height="33.2" fill="url(#gp)"/>
<path d="M0,39.2H48.2M164.4,39.2H216" stroke="#c81818" stroke-width="0.8"/>
<path d="M215.6,39V96M0,95.8H106M108,95.8H216" stroke="#9a0000" stroke-width="0.8" fill="none"/>
<path d="M1,62.7H44.8M168,62.7H212" stroke="#ffb4b4" stroke-width="0.9" opacity="0.9"/>
<rect x="51" y="39.4" width="111" height="21.2" fill="#fff" stroke="#a9a9a9" stroke-width="1"/>
<rect x="52.2" y="40.6" width="19.6" height="18.8" fill="url(#gb)" stroke="#c8c8c8" stroke-width="0.6"/>
<rect x="141.2" y="40.6" width="19.6" height="18.8" fill="url(#gb)" stroke="#c8c8c8" stroke-width="0.6"/>
<line x1="72.6" y1="40" x2="72.6" y2="60" stroke="#b4b4b4" stroke-width="0.8"/><line x1="140.4" y1="40" x2="140.4" y2="60" stroke="#b4b4b4" stroke-width="0.8"/>
<polygon points="58.6,48.4 64.4,48.4 61.5,51.6" fill="#4a5ab4"/>
<polygon points="147.4,51.4 153.4,51.4 150.4,48.2" fill="#4a5ab4"/>
<text x="136.6" y="54.2" font-size="12.00" fill="#111" text-anchor="end" >1.00</text>
<text x="22.2" y="54.8" font-size="12.20" fill="#fff" text-anchor="middle" textLength="26.0" lengthAdjust="spacingAndGlyphs" >SELL</text>
<text x="188.9" y="54.8" font-size="12.20" fill="#fff" text-anchor="middle" textLength="23.0" lengthAdjust="spacingAndGlyphs" >BUY</text>
<text x="13.6" y="90.0" font-size="10.70" fill="#fff" textLength="34.0" lengthAdjust="spacingAndGlyphs" font-weight="bold" >27866</text>
<text x="123.0" y="90.0" font-size="10.70" fill="#fff" textLength="34.0" lengthAdjust="spacingAndGlyphs" font-weight="bold" >27889</text>
<rect x="53.2" y="86.8" width="3.3" height="3.3" rx="0.6" fill="#fff"/><rect x="163.5" y="86.8" width="3.3" height="3.3" rx="0.6" fill="#fff"/>
<text x="57.6" y="90.6" font-size="34.00" fill="#fff" textLength="18.6" lengthAdjust="spacingAndGlyphs" >0</text>
<text x="168.0" y="90.6" font-size="34.00" fill="#fff" textLength="18.6" lengthAdjust="spacingAndGlyphs" >0</text>
<rect x="0" y="0" width="1699" height="15.2" fill="#f0f0f0"/>
<rect x="0" y="15" width="1699" height="1" fill="#c6c6c6"/><rect x="0" y="15.9" width="1699" height="1.3" fill="#808080"/>
<path d="M-1,1C1.6,2 1.8,5.4 -1,7.2Z" fill="#a8ccee" stroke="#5a8ac0" stroke-width="0.8"/><line x1="0.8" y1="7" x2="5.2" y2="12" stroke="#d8a428" stroke-width="2.3" stroke-linecap="round"/>
<line x1="13.4" y1="0" x2="13.4" y2="12.6" stroke="#9c9c9c" stroke-width="1"/>
<rect x="23.4" y="-2" width="7.6" height="10.2" rx="0.8" fill="#fff" stroke="#8e8e8e" stroke-width="0.9"/><path d="M24.8,1.9H29.6M24.8,3.5H29.6" stroke="#8a8a8a" stroke-width="0.7"/>
<path d="M27.1,6.85H39.1M33.1,1V12.7" stroke="#0c8c0c" stroke-width="3.4"/><path d="M27.7,6.85H38.5M33.1,1.6V12.1" stroke="#2adf2a" stroke-width="2"/>
<text x="41.8" y="6.1" font-size="12.00" fill="#000" textLength="36.4" lengthAdjust="spacingAndGlyphs" >新订单</text>
<polygon points="90.3,4.6 96,-1 106,5 97.9,10.7" fill="url(#gold)" stroke="#a06c08" stroke-width="0.7"/><path d="M90.5,6L97.9,11.6L105.8,6.2" stroke="#8a5a06" stroke-width="1.1" fill="none"/>
<rect x="120.6" y="-2" width="10.1" height="6.2" fill="#2f7fe0"/><rect x="124.4" y="-1" width="2.6" height="3" fill="#dff"/>
<path d="M119.6,10.4C117.4,10 117.6,6.6 120.8,6.6C121.4,3.6 125.6,3 127,5.4C129.6,3.8 132.6,5.4 131.8,7.4C134.6,7.6 134.4,10.4 132,10.4Z" fill="#e4eefa" stroke="#8aa4c8" stroke-width="0.8"/>
<path d="M153.7,3.1L153.7,-2A8.2,8.2 0 0 1 158.6,9.6L153.7,10.6Z" fill="#5cb85c" opacity="0.85"/><path d="M153.7,3.1V10.8" stroke="#2a9a2a" stroke-width="1.3"/>
<path d="M151.6,-0.4A3.6,3.6 0 0 0 151.4,5.8M149.4,-1.6A6.2,6.2 0 0 0 149.6,7.8M147.4,-2A8.4,8.4 0 0 0 148.4,9.4" stroke="#5a86d8" stroke-width="0.9" fill="none"/><circle cx="153.7" cy="3.1" r="1.5" fill="#2a5ad0"/>
<path d="M173.1,2.4L180.6,10.6L187.6,8.6L188,2.4Z" fill="#f4cf40" stroke="#c09a20" stroke-width="0.7"/><path d="M173.4,2.6C175,-3 186,-3 187.8,2.6Z" fill="#5ab0dc"/><circle cx="185.5" cy="6.6" r="3.8" fill="#e01e1e" stroke="#a80c0c" stroke-width="0.5"/><rect x="183.9" y="5" width="3.2" height="3.2" fill="#fff"/>
<text x="194.6" y="6.1" font-size="12.00" fill="#000" textLength="46.6" lengthAdjust="spacingAndGlyphs" >自动交易</text>
<line x1="249.5" y1="0" x2="249.5" y2="14.4" stroke="#9c9c9c" stroke-width="1"/>
<path d="M252.6,1.3h3.5M252.6,3.0h3.5M252.6,4.8h3.5M252.6,6.5h3.5M252.6,8.3h3.5M252.6,10.1h3.5M252.6,11.8h3.5" stroke="#9a9a9a" stroke-width="0.9"/>
<path d="M267.6,0V11M265.0,8.4H277.6" stroke="#333" stroke-width="1" fill="none"/><polygon points="276.6,6.9 279.0,8.4 276.6,9.9" fill="#333"/>
<path d="M273.5,-1V6.2M273.5,5.6H271.3" stroke="#18a018" stroke-width="1.3" fill="none"/>
<rect x="288.0" y="0" width="23.6" height="12.8" fill="#f8f8f8"/><line x1="287.7" y1="0" x2="287.7" y2="12.8" stroke="#aaaaaa" stroke-width="0.9"/>
<path d="M295.3,0V11M293.0,8.4H305.6" stroke="#333" stroke-width="1" fill="none"/><polygon points="304.6,6.9 307.0,8.4 304.6,9.9" fill="#333"/>
<rect x="299.3" y="-2" width="4.3" height="6.5" fill="#22c022" stroke="#0c7c0c" stroke-width="0.7"/><path d="M301.5,4.5V6.8" stroke="#0c6c0c" stroke-width="1"/>
<path d="M323.3,0V11M321.0,8.4H333.6" stroke="#333" stroke-width="1" fill="none"/><polygon points="332.6,6.9 335.0,8.4 332.6,9.9" fill="#333"/>
<polyline points="322.1,5.6 328.3,0.4 333.3,4.5" fill="none" stroke="#18a018" stroke-width="1.2"/>
<line x1="344.5" y1="0" x2="344.5" y2="12.8" stroke="#9c9c9c" stroke-width="1"/>
<line x1="363.8" y1="5.4" x2="367.6" y2="9.6" stroke="#8a6a14" stroke-width="3.2" stroke-linecap="round"/><line x1="363.8" y1="5.4" x2="367.6" y2="9.6" stroke="#e6b830" stroke-width="2" stroke-linecap="round"/>
<circle cx="360.2" cy="0" r="5.6" fill="#c4def6" stroke="#4a82c4" stroke-width="1.4"/><path d="M357.2,0.6H363.2M360.2,-2V3.4" stroke="#5a7fa8" stroke-width="1.8" fill="none"/>
<line x1="391.7" y1="5.4" x2="395.5" y2="9.6" stroke="#8a6a14" stroke-width="3.2" stroke-linecap="round"/><line x1="391.7" y1="5.4" x2="395.5" y2="9.6" stroke="#e6b830" stroke-width="2" stroke-linecap="round"/>
<circle cx="388.1" cy="0" r="5.6" fill="#c4def6" stroke="#4a82c4" stroke-width="1.4"/><path d="M385.1,0.6H391.1" stroke="#5a7fa8" stroke-width="1.8" fill="none"/>
<rect x="409.4" y="-1" width="7.4" height="2.7" fill="#3fae3f"/><rect x="417.8" y="-1" width="7.4" height="2.7" fill="#3a6fd8"/><rect x="409.4" y="3.4" width="7.4" height="7.2" fill="#3a6fd8"/><rect x="417.8" y="3.4" width="7.4" height="7.2" fill="#3fae3f"/><path d="M409.4,3.8H416.8" stroke="#1a3f98" stroke-width="0.9"/><path d="M417.8,3.8H425.2" stroke="#1a7a1a" stroke-width="0.9"/><rect x="410.8" y="6.6" width="4.6" height="2.4" fill="#fff"/><rect x="419.2" y="6.6" width="4.6" height="2.4" fill="#fff"/><rect x="410.8" y="-1" width="4.6" height="1.6" fill="#fff"/><rect x="419.2" y="-1" width="4.6" height="1.6" fill="#fff"/>
<line x1="434.6" y1="0" x2="434.6" y2="12.8" stroke="#9c9c9c" stroke-width="1"/>
<rect x="439.6" y="0" width="24.4" height="12.8" fill="#f8f8f8"/><line x1="439.3" y1="0" x2="439.3" y2="12.8" stroke="#aaaaaa" stroke-width="0.9"/>
<path d="M447.3,0V11M445.0,8.4H457.6" stroke="#333" stroke-width="1" fill="none"/><polygon points="456.6,6.9 459.0,8.4 456.6,9.9" fill="#333"/>
<polygon points="451.8,-0.4 451.8,5.8 456.5,2.7" fill="#3fd03f" stroke="#149414" stroke-width="0.8"/>
<rect x="467.5" y="0" width="24.5" height="12.8" fill="#f8f8f8"/><line x1="467.2" y1="0" x2="467.2" y2="12.8" stroke="#aaaaaa" stroke-width="0.9"/>
<path d="M475.3,0V11M473.0,8.4H485.6" stroke="#333" stroke-width="1" fill="none"/><polygon points="484.6,6.9 487.0,8.4 484.6,9.9" fill="#333"/>
<path d="M481.4,-1V6.2" stroke="#2a6ab4" stroke-width="1.1"/><path d="M483,2.2H487.4" stroke="#e0400c" stroke-width="1.1"/><polygon points="481.9,2.2 484.6,0.2 484.6,4.2" fill="#e0400c"/>
<line x1="496.3" y1="0" x2="496.3" y2="12.8" stroke="#9c9c9c" stroke-width="1"/>
<rect x="506.6" y="-2" width="6.8" height="9.8" fill="#fff" stroke="#8a8a8a" stroke-width="0.9"/><path d="M508,0V4" stroke="#444" stroke-width="0.8"/>
<path d="M510.4,6.7H521.8M516.1,1.5V12.4" stroke="#0c8c0c" stroke-width="3.6"/><path d="M511,6.7H521.2M516.1,2.1V11.8" stroke="#2adf2a" stroke-width="2.2"/>
<polygon points="527.7,2.2 533.3,2.2 530.5,5.1" fill="#111"/>
<circle cx="551.9" cy="2.2" r="6.9" fill="#dfe4ec" stroke="#1f52b8" stroke-width="2.6"/><path d="M551.9,-2.4V2.6L554.8,3.8" stroke="#666" stroke-width="0.9" fill="none"/>
<polygon points="566.9,2.2 572.5,2.2 569.7,5.1" fill="#111"/>
<rect x="583.9" y="-2" width="14.3" height="11.2" fill="#fff" stroke="#3a78d0" stroke-width="1.4"/><polyline points="585.4,2 588.6,0.8 592,1.4 596.8,-0.6" fill="none" stroke="#b03818" stroke-width="1"/><polyline points="585.4,7.2 588.6,5.6 592,7 594.4,5.2 596.8,6.8" fill="none" stroke="#1f9a2f" stroke-width="1"/><path d="M583.9,3.4H598.2" stroke="#8aa4cc" stroke-width="0.8"/>
<polygon points="605.8,2.2 611.4,2.2 608.6,5.1" fill="#111"/>
<line x1="617.4" y1="0" x2="617.4" y2="12.8" stroke="#9c9c9c" stroke-width="1"/>
<path d="M621.1,1.3h3.5M621.1,3.0h3.5M621.1,4.8h3.5M621.1,6.5h3.5M621.1,8.3h3.5M621.1,10.1h3.5M621.1,11.8h3.5" stroke="#9a9a9a" stroke-width="0.9"/>
<rect x="627.4" y="0" width="25.0" height="12.8" fill="#f8f8f8"/><line x1="627.1" y1="0" x2="627.1" y2="12.8" stroke="#aaaaaa" stroke-width="0.9"/>
<polygon points="635,-2 635,8 637.6,5.8 639.8,10.2 641.4,9.4 639.4,5.2 642.6,5.2" fill="#111"/>
<path d="M667.7,-1V10.4M660.4,3.3H675" stroke="#444" stroke-width="0.8"/>
<line x1="684.6" y1="0" x2="684.6" y2="12.8" stroke="#9c9c9c" stroke-width="1"/>
<path d="M701.5,-1V9.6" stroke="#222" stroke-width="1"/><path d="M724.4,3.3H736.4" stroke="#222" stroke-width="1"/><path d="M751.6,9.8L762.8,-0.4" stroke="#222" stroke-width="1"/>
<path d="M778,8.6L790,-1M781,9.8L793,0.4M779.6,3L788,7.6M782.6,0.4L790.6,5" stroke="#333" stroke-width="0.8"/>
<text x="789.0" y="11.8" font-size="7.00" fill="#333" >E</text>
<path d="M807,3H820M807,5.6H817" stroke="#333" stroke-width="0.9" stroke-dasharray="1 1"/>
<text x="817.8" y="11.8" font-size="7.00" fill="#333" >F</text>
<text x="841.6" y="7.2" font-size="12.50" fill="#555" text-anchor="middle" >A</text>
<rect x="864.6" y="-2" width="11" height="11.2" fill="none" stroke="#555" stroke-width="0.8" stroke-dasharray="1 1"/>
<text x="870.2" y="7.4" font-size="12.00" fill="#555" text-anchor="middle" >T</text>
<path d="M890.6,0.6L893.6,3.4L898,-1.2" stroke="#333" stroke-width="1.6" fill="none"/><polygon points="899.6,2.2 903.4,5 899.6,8.6 896,5.4" fill="#333"/>
<polygon points="911.8,2.2 917.4,2.2 914.6,5.1" fill="#111"/>
<line x1="923.8" y1="0" x2="923.8" y2="12.8" stroke="#9c9c9c" stroke-width="1"/>
<path d="M927.2,1.3h3.5M927.2,3.0h3.5M927.2,4.8h3.5M927.2,6.5h3.5M927.2,8.3h3.5M927.2,10.1h3.5M927.2,11.8h3.5" stroke="#9a9a9a" stroke-width="0.9"/>
<rect x="1073.8" y="0" width="24.8" height="12.8" fill="#f8f8f8"/><line x1="1073.5" y1="0" x2="1073.5" y2="12.8" stroke="#aaaaaa" stroke-width="0.9"/>
<text x="945.0" y="6.6" font-size="10.80" fill="#555" text-anchor="middle" >M1</text>
<text x="973.0" y="6.6" font-size="10.80" fill="#555" text-anchor="middle" >M5</text>
<text x="1001.0" y="6.6" font-size="10.80" fill="#555" text-anchor="middle" >M15</text>
<text x="1029.0" y="6.6" font-size="10.80" fill="#555" text-anchor="middle" >M30</text>
<text x="1057.6" y="6.6" font-size="10.80" fill="#555" text-anchor="middle" >H1</text>
<text x="1085.4" y="6.6" font-size="10.80" fill="#555" text-anchor="middle" >H4</text>
<text x="1113.0" y="6.6" font-size="10.80" fill="#555" text-anchor="middle" >D1</text>
<text x="1141.6" y="6.6" font-size="10.80" fill="#555" text-anchor="middle" >W1</text>
<text x="1168.8" y="6.6" font-size="10.80" fill="#555" text-anchor="middle" >MN</text>
<line x1="1184.8" y1="0" x2="1184.8" y2="12.8" stroke="#9c9c9c" stroke-width="1"/>
<line x1="1646.2" y1="7.8" x2="1652.2" y2="2" stroke="#2a6acc" stroke-width="2.2" stroke-linecap="round"/><circle cx="1656" cy="-1.6" r="4.4" fill="#e8f2ff" stroke="#2a6acc" stroke-width="1.4"/>
<path d="M1671.6,0H1684V7.6H1678L1675,10.8V7.6H1671.6Z" fill="#e2e2e2" stroke="#b4b4b4" stroke-width="0.7"/>
<circle cx="1685.4" cy="0.4" r="8.4" fill="#e5241c"/>
<text x="1685.4" y="4.4" font-size="10.00" fill="#fff" text-anchor="middle" font-weight="bold" >1</text>
</svg>
</body></html>
